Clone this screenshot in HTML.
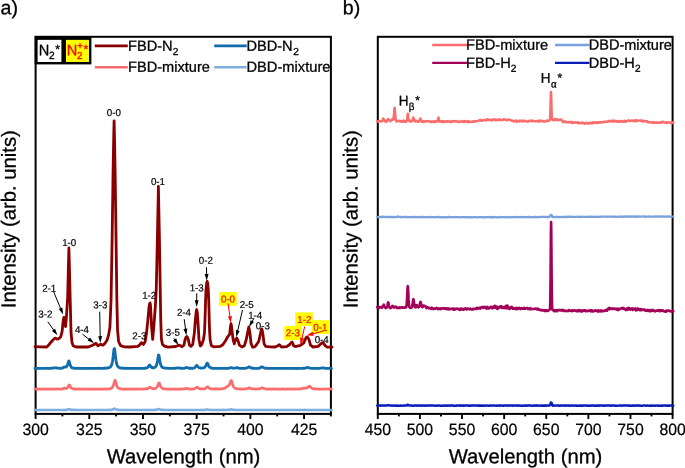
<!DOCTYPE html>
<html lang="en">
<head>
<meta charset="utf-8">
<title>Optical emission spectra</title>
<style>
html,body{margin:0;padding:0;background:#fff;}
body{width:685px;height:468px;overflow:hidden;}
svg{display:block;}
text{font-family:"Liberation Sans",sans-serif;stroke-linejoin:round;}
</style>
</head>
<body>
<svg width="685" height="468" viewBox="0 0 685 468" role="img" aria-label="Optical emission spectra, panels a and b">
<rect x="0" y="0" width="685" height="468" fill="#fff"/>
<g id="panel-a">
<rect x="35.60" y="36.80" width="295.30" height="377.10" fill="none" stroke="#000" stroke-width="2.00"/>
<line x1="35.60" y1="413.90" x2="35.60" y2="419.00" stroke="#000" stroke-width="1.9"/><line x1="89.29" y1="413.90" x2="89.29" y2="419.00" stroke="#000" stroke-width="1.9"/><line x1="142.98" y1="413.90" x2="142.98" y2="419.00" stroke="#000" stroke-width="1.9"/><line x1="196.67" y1="413.90" x2="196.67" y2="419.00" stroke="#000" stroke-width="1.9"/><line x1="250.36" y1="413.90" x2="250.36" y2="419.00" stroke="#000" stroke-width="1.9"/><line x1="304.05" y1="413.90" x2="304.05" y2="419.00" stroke="#000" stroke-width="1.9"/><line x1="62.45" y1="413.90" x2="62.45" y2="416.40" stroke="#000" stroke-width="1.9"/><line x1="116.14" y1="413.90" x2="116.14" y2="416.40" stroke="#000" stroke-width="1.9"/><line x1="169.83" y1="413.90" x2="169.83" y2="416.40" stroke="#000" stroke-width="1.9"/><line x1="223.52" y1="413.90" x2="223.52" y2="416.40" stroke="#000" stroke-width="1.9"/><line x1="277.21" y1="413.90" x2="277.21" y2="416.40" stroke="#000" stroke-width="1.9"/><line x1="330.90" y1="413.90" x2="330.90" y2="416.40" stroke="#000" stroke-width="1.9"/>
<text transform="translate(35.60 434.90) rotate(0.05) scale(1.000 1.040)" font-size="15.80" text-anchor="middle" fill="#000" stroke="#000" stroke-width="0.20" >300</text>
<text transform="translate(89.29 434.90) rotate(0.05) scale(1.000 1.040)" font-size="15.80" text-anchor="middle" fill="#000" stroke="#000" stroke-width="0.20" >325</text>
<text transform="translate(142.98 434.90) rotate(0.05) scale(1.000 1.040)" font-size="15.80" text-anchor="middle" fill="#000" stroke="#000" stroke-width="0.20" >350</text>
<text transform="translate(196.67 434.90) rotate(0.05) scale(1.000 1.040)" font-size="15.80" text-anchor="middle" fill="#000" stroke="#000" stroke-width="0.20" >375</text>
<text transform="translate(250.36 434.90) rotate(0.05) scale(1.000 1.040)" font-size="15.80" text-anchor="middle" fill="#000" stroke="#000" stroke-width="0.20" >400</text>
<text transform="translate(304.05 434.90) rotate(0.05) scale(1.000 1.040)" font-size="15.80" text-anchor="middle" fill="#000" stroke="#000" stroke-width="0.20" >425</text>
<text transform="translate(183.50 463.30) rotate(0.05)" font-size="20.30" text-anchor="middle" fill="#000" stroke="#000" stroke-width="0.30" >Wavelength (nm)</text>
<text transform="translate(15.6 219.2) rotate(-89.95)" font-size="20.30" text-anchor="middle" stroke="#000" stroke-width="0.3">Intensity (arb. units)</text>
<text transform="translate(0.50 14.20) rotate(0.05)" font-size="19.60" text-anchor="start" fill="#000" stroke="#000" stroke-width="0.30" >a)</text>
<path d="M35.00 409.97 L35.50 409.94 L36.00 410.02 L36.50 409.93 L37.00 410.01 L37.50 409.98 L38.00 409.93 L38.50 410.00 L39.00 409.93 L39.50 409.99 L40.00 409.93 L40.50 409.93 L41.00 409.99 L41.50 410.05 L42.00 409.94 L42.50 409.96 L43.00 410.02 L43.50 410.07 L44.00 410.01 L44.50 409.98 L45.00 410.08 L45.50 409.93 L46.00 410.06 L46.50 409.97 L47.00 409.94 L47.50 409.94 L48.00 409.97 L48.50 410.05 L49.00 409.95 L49.50 410.01 L50.00 410.02 L50.50 409.98 L51.00 410.01 L51.50 409.93 L52.00 409.93 L52.50 409.95 L53.00 410.03 L53.50 409.99 L54.00 409.97 L54.50 410.01 L55.00 409.99 L55.50 409.97 L56.00 410.05 L56.50 410.03 L57.00 409.96 L57.50 410.01 L58.00 410.00 L58.50 410.06 L59.00 410.03 L59.50 409.96 L60.00 410.07 L60.50 409.93 L61.00 409.98 L61.50 410.03 L62.00 409.93 L62.50 409.98 L63.00 409.91 L63.50 410.00 L64.00 410.01 L64.50 409.97 L65.00 410.01 L65.50 409.90 L66.00 409.92 L66.50 409.85 L67.00 409.77 L67.50 409.61 L68.00 409.48 L68.50 409.28 L69.00 409.10 L69.50 409.23 L70.00 409.35 L70.50 409.65 L71.00 409.78 L71.50 409.92 L72.00 409.94 L72.50 409.89 L73.00 409.93 L73.50 409.99 L74.00 409.89 L74.50 409.97 L75.00 409.93 L75.50 409.92 L76.00 409.92 L76.50 410.03 L77.00 409.93 L77.50 409.95 L78.00 409.98 L78.50 410.05 L79.00 409.93 L79.50 409.99 L80.00 410.00 L80.50 410.06 L81.00 410.05 L81.50 410.06 L82.00 409.96 L82.50 409.98 L83.00 409.98 L83.50 410.06 L84.00 410.07 L84.50 409.94 L85.00 409.95 L85.50 409.96 L86.00 409.96 L86.50 410.00 L87.00 410.01 L87.50 409.96 L88.00 409.92 L88.50 409.99 L89.00 409.98 L89.50 410.01 L90.00 410.07 L90.50 410.03 L91.00 410.00 L91.50 410.02 L92.00 410.03 L92.50 409.93 L93.00 410.06 L93.50 410.04 L94.00 410.06 L94.50 410.05 L95.00 409.98 L95.50 409.98 L96.00 409.94 L96.50 410.02 L97.00 409.93 L97.50 409.93 L98.00 409.95 L98.50 409.94 L99.00 409.97 L99.50 409.93 L100.00 409.92 L100.50 409.94 L101.00 409.93 L101.50 409.97 L102.00 409.92 L102.50 410.06 L103.00 410.01 L103.50 409.94 L104.00 409.95 L104.50 409.97 L105.00 409.97 L105.50 409.93 L106.00 410.04 L106.50 410.06 L107.00 409.98 L107.50 409.98 L108.00 409.91 L108.50 409.90 L109.00 409.93 L109.50 409.91 L110.00 409.98 L110.50 409.85 L111.00 409.79 L111.50 409.88 L112.00 409.73 L112.50 409.52 L113.00 409.37 L113.50 408.99 L114.00 408.75 L114.50 408.68 L115.00 408.81 L115.50 409.10 L116.00 409.33 L116.50 409.56 L117.00 409.67 L117.50 409.85 L118.00 409.87 L118.50 409.95 L119.00 409.90 L119.50 409.90 L120.00 410.01 L120.50 410.04 L121.00 410.03 L121.50 410.03 L122.00 410.03 L122.50 410.02 L123.00 409.94 L123.50 409.99 L124.00 409.97 L124.50 409.92 L125.00 409.92 L125.50 409.96 L126.00 409.96 L126.50 410.03 L127.00 410.07 L127.50 409.99 L128.00 410.07 L128.50 410.07 L129.00 410.07 L129.50 409.98 L130.00 409.95 L130.50 409.95 L131.00 409.95 L131.50 409.95 L132.00 410.02 L132.50 410.06 L133.00 410.05 L133.50 410.00 L134.00 410.02 L134.50 410.05 L135.00 409.93 L135.50 410.02 L136.00 410.06 L136.50 410.04 L137.00 410.04 L137.50 410.00 L138.00 409.95 L138.50 410.04 L139.00 409.97 L139.50 410.05 L140.00 410.07 L140.50 409.98 L141.00 409.98 L141.50 410.07 L142.00 410.03 L142.50 409.95 L143.00 409.94 L143.50 409.94 L144.00 410.06 L144.50 410.05 L145.00 409.94 L145.50 410.05 L146.00 410.07 L146.50 410.02 L147.00 409.97 L147.50 410.00 L148.00 409.94 L148.50 409.92 L149.00 410.07 L149.50 410.02 L150.00 410.00 L150.50 410.06 L151.00 409.98 L151.50 410.05 L152.00 410.03 L152.50 409.93 L153.00 409.93 L153.50 409.93 L154.00 409.91 L154.50 409.95 L155.00 409.88 L155.50 409.87 L156.00 409.77 L156.50 409.81 L157.00 409.59 L157.50 409.42 L158.00 409.20 L158.50 409.08 L159.00 409.03 L159.50 409.30 L160.00 409.47 L160.50 409.65 L161.00 409.77 L161.50 409.76 L162.00 409.88 L162.50 409.87 L163.00 409.86 L163.50 410.00 L164.00 409.91 L164.50 409.97 L165.00 410.02 L165.50 409.99 L166.00 409.96 L166.50 409.99 L167.00 410.00 L167.50 410.04 L168.00 409.93 L168.50 410.00 L169.00 409.95 L169.50 409.96 L170.00 410.04 L170.50 410.00 L171.00 410.01 L171.50 410.04 L172.00 410.06 L172.50 409.99 L173.00 410.02 L173.50 410.00 L174.00 410.00 L174.50 410.03 L175.00 409.99 L175.50 410.00 L176.00 410.00 L176.50 410.07 L177.00 410.03 L177.50 410.06 L178.00 410.07 L178.50 409.96 L179.00 410.01 L179.50 410.07 L180.00 410.05 L180.50 409.94 L181.00 409.94 L181.50 409.99 L182.00 409.93 L182.50 409.96 L183.00 409.93 L183.50 410.03 L184.00 410.04 L184.50 410.06 L185.00 409.94 L185.50 410.03 L186.00 410.02 L186.50 409.94 L187.00 410.06 L187.50 410.07 L188.00 409.95 L188.50 410.07 L189.00 409.98 L189.50 410.00 L190.00 410.08 L190.50 410.05 L191.00 409.94 L191.50 409.99 L192.00 410.00 L192.50 409.97 L193.00 409.95 L193.50 409.97 L194.00 410.03 L194.50 409.92 L195.00 410.01 L195.50 409.99 L196.00 409.92 L196.50 409.97 L197.00 410.02 L197.50 410.00 L198.00 409.93 L198.50 410.07 L199.00 410.04 L199.50 410.07 L200.00 409.93 L200.50 409.95 L201.00 409.91 L201.50 410.03 L202.00 409.94 L202.50 409.91 L203.00 409.95 L203.50 410.02 L204.00 409.98 L204.50 409.86 L205.00 409.79 L205.50 409.84 L206.00 409.68 L206.50 409.58 L207.00 409.43 L207.50 409.48 L208.00 409.70 L208.50 409.76 L209.00 409.78 L209.50 409.97 L210.00 409.95 L210.50 410.00 L211.00 409.90 L211.50 410.03 L212.00 409.91 L212.50 410.04 L213.00 409.98 L213.50 409.96 L214.00 410.00 L214.50 410.06 L215.00 409.96 L215.50 409.94 L216.00 410.00 L216.50 409.95 L217.00 409.93 L217.50 409.94 L218.00 409.92 L218.50 409.95 L219.00 409.97 L219.50 409.97 L220.00 410.04 L220.50 409.96 L221.00 410.00 L221.50 409.94 L222.00 409.97 L222.50 409.92 L223.00 409.95 L223.50 409.91 L224.00 410.03 L224.50 410.00 L225.00 409.94 L225.50 409.98 L226.00 410.05 L226.50 409.91 L227.00 410.01 L227.50 409.93 L228.00 409.92 L228.50 409.93 L229.00 409.80 L229.50 409.73 L230.00 409.63 L230.50 409.54 L231.00 409.37 L231.50 409.52 L232.00 409.63 L232.50 409.75 L233.00 409.80 L233.50 409.86 L234.00 409.85 L234.50 409.88 L235.00 409.89 L235.50 410.01 L236.00 409.94 L236.50 409.93 L237.00 409.92 L237.50 410.04 L238.00 410.05 L238.50 410.02 L239.00 409.96 L239.50 409.95 L240.00 409.96 L240.50 409.99 L241.00 409.94 L241.50 409.99 L242.00 409.96 L242.50 410.07 L243.00 410.07 L243.50 410.01 L244.00 409.96 L244.50 410.07 L245.00 409.97 L245.50 409.98 L246.00 409.92 L246.50 409.98 L247.00 410.00 L247.50 410.00 L248.00 409.95 L248.50 410.00 L249.00 409.92 L249.50 409.96 L250.00 409.93 L250.50 409.98 L251.00 409.93 L251.50 409.92 L252.00 409.97 L252.50 409.96 L253.00 410.01 L253.50 410.00 L254.00 410.04 L254.50 410.02 L255.00 410.03 L255.50 410.06 L256.00 409.98 L256.50 409.97 L257.00 410.08 L257.50 409.94 L258.00 410.04 L258.50 410.02 L259.00 409.93 L259.50 410.05 L260.00 410.06 L260.50 410.02 L261.00 410.04 L261.50 410.05 L262.00 409.94 L262.50 410.00 L263.00 410.00 L263.50 410.05 L264.00 410.05 L264.50 410.05 L265.00 410.01 L265.50 410.06 L266.00 410.03 L266.50 410.03 L267.00 409.96 L267.50 409.92 L268.00 409.94 L268.50 409.98 L269.00 409.94 L269.50 410.05 L270.00 410.01 L270.50 410.02 L271.00 410.02 L271.50 410.03 L272.00 410.00 L272.50 409.92 L273.00 410.05 L273.50 410.04 L274.00 410.00 L274.50 410.01 L275.00 410.03 L275.50 409.93 L276.00 410.04 L276.50 409.96 L277.00 409.93 L277.50 409.96 L278.00 410.04 L278.50 409.95 L279.00 410.04 L279.50 410.08 L280.00 410.00 L280.50 409.98 L281.00 410.00 L281.50 410.03 L282.00 410.04 L282.50 410.02 L283.00 410.02 L283.50 409.93 L284.00 409.94 L284.50 409.96 L285.00 410.04 L285.50 409.97 L286.00 410.01 L286.50 409.92 L287.00 409.93 L287.50 409.96 L288.00 410.03 L288.50 410.03 L289.00 410.03 L289.50 409.97 L290.00 410.00 L290.50 409.99 L291.00 409.99 L291.50 409.94 L292.00 410.06 L292.50 409.95 L293.00 410.08 L293.50 410.07 L294.00 409.92 L294.50 409.99 L295.00 410.05 L295.50 410.07 L296.00 409.99 L296.50 409.96 L297.00 409.95 L297.50 410.07 L298.00 409.95 L298.50 410.01 L299.00 409.94 L299.50 410.00 L300.00 410.07 L300.50 409.94 L301.00 410.05 L301.50 410.00 L302.00 410.06 L302.50 410.03 L303.00 409.96 L303.50 410.06 L304.00 410.00 L304.50 409.92 L305.00 409.92 L305.50 410.00 L306.00 409.99 L306.50 409.97 L307.00 409.94 L307.50 409.98 L308.00 409.97 L308.50 410.05 L309.00 409.92 L309.50 410.04 L310.00 410.05 L310.50 409.94 L311.00 410.07 L311.50 410.03 L312.00 410.06 L312.50 409.97 L313.00 409.98 L313.50 409.98 L314.00 410.08 L314.50 410.01 L315.00 409.98 L315.50 409.99 L316.00 409.96 L316.50 409.93 L317.00 409.94 L317.50 410.05 L318.00 409.97 L318.50 410.07 L319.00 409.96 L319.50 409.96 L320.00 410.00 L320.50 409.95 L321.00 409.98 L321.50 410.07 L322.00 410.06 L322.50 410.05 L323.00 410.02 L323.50 410.07 L324.00 410.07 L324.50 410.01 L325.00 410.04 L325.50 409.93 L326.00 410.04 L326.50 409.99 L327.00 410.04 L327.50 410.02 L328.00 409.97 L328.50 409.93 L329.00 410.07 L329.50 409.94 L330.00 410.00 L330.50 409.97 L331.00 409.97 L331.50 410.04" fill="none" stroke="#7daede" stroke-width="2.60" stroke-linejoin="round" stroke-linecap="round" />
<path d="M35.00 389.14 L35.50 389.17 L36.00 389.19 L36.50 389.23 L37.00 389.17 L37.50 389.23 L38.00 388.96 L38.50 389.09 L39.00 389.23 L39.50 389.14 L40.00 389.22 L40.50 388.98 L41.00 389.09 L41.50 389.02 L42.00 389.11 L42.50 389.12 L43.00 388.95 L43.50 389.01 L44.00 389.03 L44.50 389.22 L45.00 389.18 L45.50 389.00 L46.00 389.19 L46.50 388.99 L47.00 389.13 L47.50 388.99 L48.00 388.95 L48.50 389.21 L49.00 389.01 L49.50 389.01 L50.00 389.24 L50.50 389.21 L51.00 389.03 L51.50 389.23 L52.00 389.11 L52.50 389.15 L53.00 389.00 L53.50 389.22 L54.00 389.15 L54.50 389.23 L55.00 389.21 L55.50 389.03 L56.00 389.05 L56.50 388.98 L57.00 388.98 L57.50 388.95 L58.00 389.02 L58.50 389.10 L59.00 388.92 L59.50 389.11 L60.00 389.00 L60.50 388.98 L61.00 389.11 L61.50 388.98 L62.00 388.89 L62.50 388.86 L63.00 388.80 L63.50 388.41 L64.00 388.44 L64.50 388.00 L65.00 388.28 L65.50 388.46 L66.00 388.27 L66.50 388.43 L67.00 388.07 L67.50 387.69 L68.00 386.80 L68.50 385.82 L69.00 384.97 L69.50 385.10 L70.00 385.67 L70.50 386.87 L71.00 387.73 L71.50 388.26 L72.00 388.41 L72.50 388.62 L73.00 388.80 L73.50 388.96 L74.00 388.81 L74.50 389.04 L75.00 389.09 L75.50 389.13 L76.00 388.90 L76.50 389.18 L77.00 388.93 L77.50 389.01 L78.00 389.10 L78.50 389.20 L79.00 389.03 L79.50 389.21 L80.00 389.10 L80.50 389.03 L81.00 389.03 L81.50 388.99 L82.00 388.96 L82.50 388.98 L83.00 389.15 L83.50 389.24 L84.00 388.99 L84.50 388.96 L85.00 389.24 L85.50 389.10 L86.00 389.06 L86.50 389.01 L87.00 389.12 L87.50 389.19 L88.00 389.08 L88.50 389.07 L89.00 388.96 L89.50 389.22 L90.00 388.95 L90.50 389.09 L91.00 389.19 L91.50 388.98 L92.00 389.16 L92.50 389.23 L93.00 389.13 L93.50 389.18 L94.00 388.97 L94.50 389.07 L95.00 388.99 L95.50 389.19 L96.00 389.03 L96.50 389.08 L97.00 389.24 L97.50 389.19 L98.00 389.23 L98.50 389.07 L99.00 389.08 L99.50 389.15 L100.00 389.08 L100.50 389.02 L101.00 389.05 L101.50 388.97 L102.00 389.04 L102.50 389.22 L103.00 389.20 L103.50 389.10 L104.00 389.06 L104.50 389.00 L105.00 388.92 L105.50 388.97 L106.00 389.11 L106.50 389.12 L107.00 388.95 L107.50 389.06 L108.00 389.03 L108.50 388.97 L109.00 388.91 L109.50 388.87 L110.00 388.67 L110.50 388.65 L111.00 388.35 L111.50 388.15 L112.00 387.85 L112.50 387.23 L113.00 386.19 L113.50 385.03 L114.00 383.12 L114.50 381.25 L115.00 380.25 L115.50 381.24 L116.00 383.00 L116.50 384.94 L117.00 386.25 L117.50 387.27 L118.00 387.81 L118.50 388.24 L119.00 388.37 L119.50 388.63 L120.00 388.78 L120.50 388.89 L121.00 388.81 L121.50 389.01 L122.00 389.05 L122.50 389.03 L123.00 389.13 L123.50 389.14 L124.00 389.03 L124.50 389.04 L125.00 388.94 L125.50 389.15 L126.00 389.19 L126.50 389.05 L127.00 389.12 L127.50 389.13 L128.00 389.14 L128.50 388.98 L129.00 389.16 L129.50 389.10 L130.00 389.13 L130.50 389.06 L131.00 389.12 L131.50 389.17 L132.00 389.13 L132.50 389.15 L133.00 388.94 L133.50 388.98 L134.00 389.07 L134.50 389.13 L135.00 389.00 L135.50 389.14 L136.00 389.13 L136.50 388.95 L137.00 389.08 L137.50 389.00 L138.00 388.95 L138.50 388.97 L139.00 389.03 L139.50 388.99 L140.00 388.99 L140.50 388.94 L141.00 389.07 L141.50 389.04 L142.00 389.10 L142.50 389.09 L143.00 388.98 L143.50 389.17 L144.00 388.89 L144.50 389.00 L145.00 388.95 L145.50 388.97 L146.00 388.84 L146.50 389.01 L147.00 388.80 L147.50 388.58 L148.00 388.56 L148.50 388.10 L149.00 387.79 L149.50 387.24 L150.00 387.07 L150.50 387.41 L151.00 387.84 L151.50 388.14 L152.00 388.54 L152.50 388.65 L153.00 388.65 L153.50 388.61 L154.00 388.73 L154.50 388.66 L155.00 388.68 L155.50 388.51 L156.00 388.14 L156.50 387.65 L157.00 387.16 L157.50 385.93 L158.00 384.67 L158.50 383.50 L159.00 382.92 L159.50 383.37 L160.00 384.83 L160.50 386.21 L161.00 387.03 L161.50 387.70 L162.00 388.06 L162.50 388.36 L163.00 388.75 L163.50 388.69 L164.00 388.96 L164.50 389.00 L165.00 388.95 L165.50 388.89 L166.00 389.13 L166.50 389.00 L167.00 388.99 L167.50 388.98 L168.00 389.19 L168.50 389.05 L169.00 388.99 L169.50 389.05 L170.00 388.95 L170.50 389.11 L171.00 389.06 L171.50 389.01 L172.00 389.16 L172.50 389.18 L173.00 388.93 L173.50 389.09 L174.00 389.02 L174.50 389.21 L175.00 389.17 L175.50 389.01 L176.00 389.02 L176.50 388.98 L177.00 389.23 L177.50 389.02 L178.00 389.12 L178.50 389.08 L179.00 389.13 L179.50 389.11 L180.00 389.15 L180.50 388.96 L181.00 389.15 L181.50 389.01 L182.00 389.07 L182.50 389.00 L183.00 388.97 L183.50 389.02 L184.00 388.96 L184.50 388.87 L185.00 388.89 L185.50 388.71 L186.00 388.41 L186.50 388.41 L187.00 388.53 L187.50 388.81 L188.00 388.92 L188.50 388.91 L189.00 388.81 L189.50 389.07 L190.00 388.98 L190.50 389.04 L191.00 389.08 L191.50 389.05 L192.00 388.99 L192.50 389.10 L193.00 388.91 L193.50 388.86 L194.00 388.92 L194.50 388.59 L195.00 388.42 L195.50 388.27 L196.00 387.62 L196.50 387.39 L197.00 387.14 L197.50 387.27 L198.00 387.68 L198.50 388.25 L199.00 388.59 L199.50 388.56 L200.00 388.78 L200.50 388.87 L201.00 388.90 L201.50 388.87 L202.00 388.83 L202.50 388.95 L203.00 389.00 L203.50 388.74 L204.00 388.72 L204.50 388.79 L205.00 388.63 L205.50 388.34 L206.00 387.77 L206.50 387.48 L207.00 387.05 L207.50 386.83 L208.00 386.97 L208.50 387.28 L209.00 388.02 L209.50 388.21 L210.00 388.59 L210.50 388.85 L211.00 388.88 L211.50 388.78 L212.00 388.87 L212.50 389.09 L213.00 388.88 L213.50 389.04 L214.00 388.99 L214.50 388.92 L215.00 389.06 L215.50 388.89 L216.00 388.91 L216.50 388.99 L217.00 388.90 L217.50 388.89 L218.00 389.04 L218.50 389.08 L219.00 389.11 L219.50 388.87 L220.00 388.95 L220.50 388.89 L221.00 388.95 L221.50 388.88 L222.00 388.97 L222.50 388.74 L223.00 388.57 L223.50 388.66 L224.00 388.36 L224.50 388.33 L225.00 388.06 L225.50 387.88 L226.00 387.41 L226.50 387.02 L227.00 386.54 L227.50 386.32 L228.00 386.01 L228.50 385.92 L229.00 385.41 L229.50 384.47 L230.00 383.17 L230.50 381.57 L231.00 380.52 L231.50 380.62 L232.00 382.37 L232.50 384.24 L233.00 385.61 L233.50 386.85 L234.00 387.38 L234.50 387.85 L235.00 388.30 L235.50 388.40 L236.00 388.73 L236.50 388.72 L237.00 388.75 L237.50 388.94 L238.00 388.76 L238.50 389.00 L239.00 388.82 L239.50 388.87 L240.00 389.13 L240.50 389.06 L241.00 388.93 L241.50 388.90 L242.00 389.16 L242.50 389.07 L243.00 389.12 L243.50 388.91 L244.00 389.05 L244.50 388.96 L245.00 388.91 L245.50 388.91 L246.00 388.95 L246.50 388.81 L247.00 388.71 L247.50 388.47 L248.00 388.43 L248.50 388.07 L249.00 387.90 L249.50 387.81 L250.00 388.20 L250.50 388.40 L251.00 388.65 L251.50 388.80 L252.00 388.95 L252.50 388.91 L253.00 388.86 L253.50 388.87 L254.00 388.93 L254.50 388.89 L255.00 389.16 L255.50 389.04 L256.00 389.12 L256.50 388.89 L257.00 389.02 L257.50 389.13 L258.00 389.03 L258.50 388.94 L259.00 388.90 L259.50 388.71 L260.00 388.60 L260.50 388.40 L261.00 388.19 L261.50 387.90 L262.00 387.91 L262.50 387.83 L263.00 388.15 L263.50 388.44 L264.00 388.60 L264.50 388.77 L265.00 388.84 L265.50 388.97 L266.00 388.87 L266.50 389.16 L267.00 389.01 L267.50 389.19 L268.00 389.12 L268.50 389.12 L269.00 389.07 L269.50 389.21 L270.00 388.97 L270.50 389.14 L271.00 389.02 L271.50 389.14 L272.00 389.16 L272.50 388.99 L273.00 389.00 L273.50 388.95 L274.00 389.01 L274.50 388.97 L275.00 389.06 L275.50 389.24 L276.00 389.05 L276.50 389.04 L277.00 389.09 L277.50 389.03 L278.00 389.16 L278.50 389.16 L279.00 388.99 L279.50 389.02 L280.00 389.15 L280.50 389.23 L281.00 389.14 L281.50 389.07 L282.00 389.24 L282.50 388.95 L283.00 388.96 L283.50 389.18 L284.00 389.07 L284.50 388.96 L285.00 389.11 L285.50 389.24 L286.00 389.10 L286.50 389.05 L287.00 388.97 L287.50 388.96 L288.00 389.21 L288.50 389.09 L289.00 389.22 L289.50 388.96 L290.00 389.01 L290.50 388.96 L291.00 389.06 L291.50 388.96 L292.00 389.01 L292.50 389.06 L293.00 389.03 L293.50 388.95 L294.00 388.94 L294.50 389.22 L295.00 388.98 L295.50 389.07 L296.00 389.04 L296.50 389.07 L297.00 388.93 L297.50 388.99 L298.00 388.92 L298.50 389.04 L299.00 389.13 L299.50 389.01 L300.00 389.06 L300.50 388.82 L301.00 388.70 L301.50 388.76 L302.00 388.62 L302.50 388.47 L303.00 388.20 L303.50 388.07 L304.00 388.00 L304.50 388.08 L305.00 388.00 L305.50 388.13 L306.00 388.27 L306.50 388.00 L307.00 387.75 L307.50 387.46 L308.00 386.90 L308.50 386.59 L309.00 386.27 L309.50 386.17 L310.00 386.54 L310.50 387.09 L311.00 387.65 L311.50 387.99 L312.00 388.38 L312.50 388.61 L313.00 388.65 L313.50 388.68 L314.00 388.94 L314.50 388.79 L315.00 388.87 L315.50 388.92 L316.00 388.97 L316.50 388.90 L317.00 389.01 L317.50 388.99 L318.00 389.13 L318.50 389.08 L319.00 389.19 L319.50 389.12 L320.00 389.15 L320.50 389.10 L321.00 389.06 L321.50 389.18 L322.00 389.13 L322.50 389.22 L323.00 389.16 L323.50 389.15 L324.00 389.02 L324.50 389.18 L325.00 389.06 L325.50 388.98 L326.00 388.96 L326.50 388.99 L327.00 389.02 L327.50 389.15 L328.00 389.03 L328.50 388.96 L329.00 389.17 L329.50 389.11 L330.00 388.95 L330.50 388.96 L331.00 388.99 L331.50 389.05" fill="none" stroke="#fc6c6c" stroke-width="2.70" stroke-linejoin="round" stroke-linecap="round" />
<path d="M35.00 368.33 L35.50 368.41 L36.00 368.37 L36.50 368.42 L37.00 368.43 L37.50 368.29 L38.00 368.28 L38.50 368.48 L39.00 368.34 L39.50 368.33 L40.00 368.51 L40.50 368.39 L41.00 368.47 L41.50 368.39 L42.00 368.42 L42.50 368.31 L43.00 368.42 L43.50 368.48 L44.00 368.39 L44.50 368.44 L45.00 368.42 L45.50 368.28 L46.00 368.44 L46.50 368.40 L47.00 368.32 L47.50 368.25 L48.00 368.45 L48.50 368.34 L49.00 368.39 L49.50 368.42 L50.00 368.36 L50.50 368.39 L51.00 368.24 L51.50 368.30 L52.00 368.17 L52.50 368.22 L53.00 368.13 L53.50 367.86 L54.00 367.79 L54.50 367.74 L55.00 367.89 L55.50 367.79 L56.00 367.90 L56.50 367.90 L57.00 368.03 L57.50 368.07 L58.00 368.11 L58.50 368.21 L59.00 368.23 L59.50 368.32 L60.00 368.27 L60.50 368.32 L61.00 368.28 L61.50 368.26 L62.00 368.10 L62.50 367.83 L63.00 367.76 L63.50 367.41 L64.00 367.01 L64.50 366.81 L65.00 367.03 L65.50 367.08 L66.00 367.18 L66.50 366.78 L67.00 365.99 L67.50 364.68 L68.00 363.04 L68.50 361.34 L69.00 360.93 L69.50 362.67 L70.00 364.51 L70.50 365.88 L71.00 366.81 L71.50 367.45 L72.00 367.80 L72.50 367.81 L73.00 368.08 L73.50 368.03 L74.00 368.25 L74.50 368.20 L75.00 368.37 L75.50 368.41 L76.00 368.32 L76.50 368.45 L77.00 368.30 L77.50 368.25 L78.00 368.38 L78.50 368.25 L79.00 368.29 L79.50 368.35 L80.00 368.40 L80.50 368.29 L81.00 368.27 L81.50 368.47 L82.00 368.34 L82.50 368.49 L83.00 368.48 L83.50 368.36 L84.00 368.38 L84.50 368.39 L85.00 368.42 L85.50 368.41 L86.00 368.40 L86.50 368.42 L87.00 368.49 L87.50 368.39 L88.00 368.37 L88.50 368.44 L89.00 368.33 L89.50 368.34 L90.00 368.50 L90.50 368.39 L91.00 368.40 L91.50 368.27 L92.00 368.37 L92.50 368.40 L93.00 368.27 L93.50 368.41 L94.00 368.42 L94.50 368.28 L95.00 368.41 L95.50 368.37 L96.00 368.42 L96.50 368.34 L97.00 368.43 L97.50 368.43 L98.00 368.26 L98.50 368.26 L99.00 368.41 L99.50 368.47 L100.00 368.30 L100.50 368.34 L101.00 368.37 L101.50 368.30 L102.00 368.30 L102.50 368.28 L103.00 368.29 L103.50 368.33 L104.00 368.25 L104.50 368.25 L105.00 368.32 L105.50 368.12 L106.00 368.22 L106.50 368.22 L107.00 368.07 L107.50 367.99 L108.00 368.05 L108.50 367.81 L109.00 367.65 L109.50 367.50 L110.00 367.28 L110.50 366.71 L111.00 366.13 L111.50 365.15 L112.00 363.73 L112.50 361.21 L113.00 357.67 L113.50 352.83 L114.00 348.88 L114.50 348.50 L115.00 352.06 L115.50 356.69 L116.00 360.53 L116.50 363.15 L117.00 364.94 L117.50 365.93 L118.00 366.77 L118.50 367.24 L119.00 367.39 L119.50 367.63 L120.00 367.92 L120.50 367.99 L121.00 368.12 L121.50 368.07 L122.00 368.07 L122.50 368.15 L123.00 368.30 L123.50 368.20 L124.00 368.24 L124.50 368.27 L125.00 368.28 L125.50 368.29 L126.00 368.43 L126.50 368.25 L127.00 368.22 L127.50 368.45 L128.00 368.44 L128.50 368.47 L129.00 368.34 L129.50 368.47 L130.00 368.47 L130.50 368.30 L131.00 368.43 L131.50 368.45 L132.00 368.41 L132.50 368.38 L133.00 368.32 L133.50 368.34 L134.00 368.31 L134.50 368.27 L135.00 368.40 L135.50 368.33 L136.00 368.45 L136.50 368.27 L137.00 368.47 L137.50 368.42 L138.00 368.48 L138.50 368.47 L139.00 368.47 L139.50 368.39 L140.00 368.25 L140.50 368.42 L141.00 368.28 L141.50 368.31 L142.00 368.39 L142.50 368.35 L143.00 368.31 L143.50 368.43 L144.00 368.33 L144.50 368.24 L145.00 368.19 L145.50 368.29 L146.00 368.13 L146.50 368.10 L147.00 367.83 L147.50 367.52 L148.00 367.15 L148.50 366.51 L149.00 365.46 L149.50 365.00 L150.00 365.30 L150.50 366.10 L151.00 366.89 L151.50 367.20 L152.00 367.64 L152.50 367.85 L153.00 367.71 L153.50 367.75 L154.00 367.67 L154.50 367.58 L155.00 367.30 L155.50 366.92 L156.00 366.34 L156.50 365.11 L157.00 363.41 L157.50 360.81 L158.00 357.45 L158.50 354.85 L159.00 355.41 L159.50 358.32 L160.00 361.42 L160.50 363.95 L161.00 365.47 L161.50 366.43 L162.00 367.04 L162.50 367.49 L163.00 367.73 L163.50 367.85 L164.00 367.93 L164.50 368.05 L165.00 368.06 L165.50 368.21 L166.00 368.28 L166.50 368.23 L167.00 368.18 L167.50 368.22 L168.00 368.28 L168.50 368.35 L169.00 368.40 L169.50 368.31 L170.00 368.42 L170.50 368.38 L171.00 368.33 L171.50 368.32 L172.00 368.35 L172.50 368.40 L173.00 368.33 L173.50 368.39 L174.00 368.32 L174.50 368.26 L175.00 368.30 L175.50 368.31 L176.00 368.10 L176.50 368.09 L177.00 367.96 L177.50 367.93 L178.00 367.88 L178.50 367.81 L179.00 368.07 L179.50 368.17 L180.00 368.14 L180.50 368.24 L181.00 368.19 L181.50 368.37 L182.00 368.34 L182.50 368.39 L183.00 368.36 L183.50 368.30 L184.00 368.27 L184.50 368.15 L185.00 367.92 L185.50 367.86 L186.00 367.54 L186.50 367.49 L187.00 367.72 L187.50 367.73 L188.00 367.91 L188.50 368.03 L189.00 368.29 L189.50 368.17 L190.00 368.16 L190.50 368.36 L191.00 368.19 L191.50 368.35 L192.00 368.29 L192.50 368.30 L193.00 368.27 L193.50 368.10 L194.00 368.03 L194.50 367.63 L195.00 367.47 L195.50 366.87 L196.00 366.20 L196.50 365.41 L197.00 365.49 L197.50 366.09 L198.00 366.62 L198.50 367.25 L199.00 367.67 L199.50 367.96 L200.00 367.95 L200.50 368.01 L201.00 368.06 L201.50 368.16 L202.00 368.18 L202.50 368.05 L203.00 367.98 L203.50 367.88 L204.00 367.69 L204.50 367.43 L205.00 366.90 L205.50 366.30 L206.00 365.38 L206.50 363.99 L207.00 363.14 L207.50 363.12 L208.00 364.31 L208.50 365.57 L209.00 366.52 L209.50 367.13 L210.00 367.53 L210.50 367.83 L211.00 368.06 L211.50 368.00 L212.00 368.06 L212.50 368.27 L213.00 368.35 L213.50 368.29 L214.00 368.29 L214.50 368.37 L215.00 368.26 L215.50 368.29 L216.00 368.28 L216.50 368.38 L217.00 368.32 L217.50 368.30 L218.00 368.42 L218.50 368.48 L219.00 368.33 L219.50 368.43 L220.00 368.36 L220.50 368.46 L221.00 368.40 L221.50 368.33 L222.00 368.31 L222.50 368.27 L223.00 368.38 L223.50 368.35 L224.00 368.30 L224.50 368.34 L225.00 368.33 L225.50 368.43 L226.00 368.27 L226.50 368.47 L227.00 368.33 L227.50 368.34 L228.00 368.27 L228.50 368.31 L229.00 368.23 L229.50 368.04 L230.00 367.85 L230.50 367.72 L231.00 367.66 L231.50 367.63 L232.00 367.89 L232.50 368.11 L233.00 368.10 L233.50 368.10 L234.00 368.13 L234.50 368.23 L235.00 368.17 L235.50 368.15 L236.00 367.98 L236.50 367.68 L237.00 367.60 L237.50 367.69 L238.00 367.84 L238.50 368.11 L239.00 368.26 L239.50 368.34 L240.00 368.23 L240.50 368.40 L241.00 368.28 L241.50 368.32 L242.00 368.40 L242.50 368.25 L243.00 368.25 L243.50 368.42 L244.00 368.28 L244.50 368.28 L245.00 368.31 L245.50 368.30 L246.00 368.08 L246.50 368.08 L247.00 367.97 L247.50 367.77 L248.00 367.40 L248.50 367.12 L249.00 366.93 L249.50 366.83 L250.00 367.18 L250.50 367.45 L251.00 367.77 L251.50 368.05 L252.00 368.04 L252.50 368.30 L253.00 368.36 L253.50 368.19 L254.00 368.42 L254.50 368.29 L255.00 368.40 L255.50 368.40 L256.00 368.28 L256.50 368.37 L257.00 368.36 L257.50 368.38 L258.00 368.22 L258.50 368.30 L259.00 368.28 L259.50 368.11 L260.00 367.92 L260.50 367.57 L261.00 367.32 L261.50 366.93 L262.00 366.85 L262.50 367.01 L263.00 367.34 L263.50 367.59 L264.00 367.95 L264.50 368.11 L265.00 368.10 L265.50 368.34 L266.00 368.32 L266.50 368.23 L267.00 368.44 L267.50 368.26 L268.00 368.32 L268.50 368.42 L269.00 368.40 L269.50 368.39 L270.00 368.42 L270.50 368.37 L271.00 368.34 L271.50 368.31 L272.00 368.29 L272.50 368.44 L273.00 368.45 L273.50 368.40 L274.00 368.45 L274.50 368.36 L275.00 368.34 L275.50 368.37 L276.00 368.48 L276.50 368.29 L277.00 368.40 L277.50 368.34 L278.00 368.46 L278.50 368.36 L279.00 368.36 L279.50 368.37 L280.00 368.41 L280.50 368.46 L281.00 368.36 L281.50 368.48 L282.00 368.30 L282.50 368.34 L283.00 368.30 L283.50 368.31 L284.00 368.46 L284.50 368.45 L285.00 368.32 L285.50 368.32 L286.00 368.38 L286.50 368.46 L287.00 368.47 L287.50 368.46 L288.00 368.42 L288.50 368.31 L289.00 368.37 L289.50 368.32 L290.00 368.40 L290.50 368.41 L291.00 368.33 L291.50 368.34 L292.00 368.46 L292.50 368.28 L293.00 368.47 L293.50 368.49 L294.00 368.50 L294.50 368.37 L295.00 368.41 L295.50 368.41 L296.00 368.43 L296.50 368.51 L297.00 368.44 L297.50 368.34 L298.00 368.48 L298.50 368.39 L299.00 368.41 L299.50 368.44 L300.00 368.26 L300.50 368.44 L301.00 368.41 L301.50 368.37 L302.00 368.36 L302.50 368.34 L303.00 368.26 L303.50 368.32 L304.00 368.17 L304.50 368.23 L305.00 368.19 L305.50 368.03 L306.00 367.90 L306.50 367.79 L307.00 367.58 L307.50 367.31 L308.00 367.56 L308.50 367.71 L309.00 367.78 L309.50 368.01 L310.00 368.09 L310.50 368.13 L311.00 368.28 L311.50 368.41 L312.00 368.29 L312.50 368.43 L313.00 368.40 L313.50 368.28 L314.00 368.46 L314.50 368.40 L315.00 368.48 L315.50 368.43 L316.00 368.43 L316.50 368.34 L317.00 368.45 L317.50 368.48 L318.00 368.45 L318.50 368.35 L319.00 368.41 L319.50 368.33 L320.00 368.22 L320.50 368.16 L321.00 368.12 L321.50 368.07 L322.00 367.96 L322.50 367.94 L323.00 367.95 L323.50 367.95 L324.00 368.02 L324.50 368.18 L325.00 368.17 L325.50 368.27 L326.00 368.37 L326.50 368.31 L327.00 368.28 L327.50 368.46 L328.00 368.43 L328.50 368.35 L329.00 368.35 L329.50 368.39 L330.00 368.41 L330.50 368.32 L331.00 368.27 L331.50 368.32" fill="none" stroke="#116dac" stroke-width="2.80" stroke-linejoin="round" stroke-linecap="round" />
<path d="M35.00 346.70 L40.00 346.90 L46.70 347.00 L48.50 345.30 L50.00 343.30 L52.50 340.50 L54.30 338.60 L55.60 338.20 L57.50 339.20 L59.30 338.20 L60.80 336.70 L62.20 331.00 L63.00 322.00 L63.90 317.30 L64.85 321.00 L65.55 326.50 L66.35 318.00 L67.65 298.00 L68.45 265.00 L68.90 248.00 L69.35 265.00 L70.15 298.00 L71.05 333.00 L72.00 342.50 L73.20 345.80 L76.00 347.00 L88.30 347.00 L92.50 345.30 L94.50 344.30 L95.80 343.30 L97.00 344.60 L98.00 345.80 L99.60 344.80 L100.80 344.20 L102.20 345.00 L103.30 345.00 L105.00 343.20 L107.00 340.30 L108.60 335.00 L109.95 327.00 L111.05 300.00 L112.15 238.00 L113.05 173.00 L113.75 135.00 L114.10 120.80 L114.45 135.00 L115.15 173.00 L116.05 238.00 L116.85 300.00 L117.55 330.00 L118.60 341.50 L120.60 345.60 L124.00 346.80 L130.00 347.00 L137.80 346.30 L139.70 344.80 L141.40 342.70 L142.60 343.60 L143.50 344.40 L145.10 341.70 L146.55 332.80 L147.85 320.20 L148.95 307.60 L149.65 303.60 L150.10 302.90 L150.45 305.00 L150.95 313.90 L151.55 326.50 L152.70 339.30 L153.25 333.00 L153.85 326.50 L155.25 307.60 L156.25 290.00 L157.35 240.00 L158.15 200.00 L158.40 186.50 L158.65 200.00 L159.45 240.00 L160.25 290.00 L160.75 320.20 L161.40 339.10 L162.40 344.20 L164.30 346.10 L168.10 347.10 L175.70 346.50 L177.60 345.70 L179.50 345.10 L182.00 346.70 L183.90 345.10 L185.10 339.60 L186.00 337.20 L186.80 336.50 L187.60 337.50 L188.30 339.60 L189.50 345.30 L190.80 346.40 L192.70 344.50 L194.35 333.10 L195.35 320.20 L196.15 312.20 L196.70 309.50 L197.25 312.20 L197.85 320.20 L199.00 339.40 L200.30 346.00 L201.50 345.10 L203.30 340.30 L204.40 333.30 L204.90 323.00 L205.30 310.00 L205.60 300.00 L206.00 290.00 L206.60 283.30 L207.15 281.40 L207.70 283.30 L208.30 290.00 L208.70 300.00 L209.00 310.00 L209.30 323.00 L209.70 333.30 L210.20 340.30 L211.30 345.50 L213.50 346.80 L220.40 346.40 L223.00 344.50 L225.50 340.70 L228.00 336.30 L229.65 334.40 L230.45 327.00 L231.00 323.70 L231.45 325.60 L231.85 329.40 L233.10 339.40 L234.30 343.80 L235.60 339.40 L236.80 338.10 L238.10 340.90 L239.40 345.10 L241.90 347.00 L244.40 345.70 L246.30 339.40 L247.75 331.90 L248.80 327.00 L249.95 333.10 L251.00 343.20 L252.60 347.20 L254.50 346.90 L256.30 345.10 L258.80 341.30 L260.45 333.70 L261.25 330.00 L261.70 328.90 L262.15 330.00 L262.85 333.70 L264.10 343.80 L265.80 346.40 L270.00 346.90 L275.20 347.00 L277.50 345.90 L279.30 344.80 L281.50 347.00 L286.60 346.60 L289.70 344.50 L291.20 342.60 L292.00 342.00 L292.80 343.20 L293.50 345.70 L295.40 346.60 L300.40 345.40 L303.60 343.20 L305.50 338.70 L306.40 337.40 L307.10 337.10 L308.00 337.90 L309.00 339.70 L310.50 345.10 L313.10 347.00 L318.10 346.40 L320.90 343.80 L322.00 342.90 L322.90 342.60 L323.80 343.50 L324.70 345.10 L326.90 347.00 L332.00 347.20" fill="none" stroke="#8a0000" stroke-width="2.80" stroke-linejoin="round" stroke-linecap="round" />
<rect x="34.70" y="36.00" width="56.70" height="28.40" fill="#000"/>
<rect x="37.60" y="39.85" width="23.80" height="22.15" fill="#fff"/>
<rect x="65.95" y="39.85" width="23.05" height="22.15" fill="#ff0"/>
<text transform="translate(38.80 55.30) rotate(0.05) scale(1 1.040)" fill="#000" stroke="#000" stroke-width="0.30"><tspan x="0.00" y="0.00" font-size="14.60">N</tspan><tspan x="10.30" y="3.65" font-size="10.20">2</tspan><tspan x="16.40" y="-1.73" font-size="12.20">*</tspan></text>
<text transform="translate(66.80 55.30) rotate(0.05) scale(1 1.040)" fill="#f00" stroke="#f00" stroke-width="0.30"><tspan x="0.00" y="0.00" font-size="14.60">N</tspan><tspan x="10.10" y="3.51" font-size="9.80">2</tspan><tspan x="10.50" y="-6.15" font-size="9.60" stroke-width="0.35">+</tspan><tspan x="16.70" y="-1.73" font-size="12.20">*</tspan></text>
<line x1="94.80" y1="45.90" x2="127.80" y2="45.90" stroke="#8a0000" stroke-width="2.60"/>
<line x1="94.80" y1="67.30" x2="127.80" y2="67.30" stroke="#fc6c6c" stroke-width="2.60"/>
<line x1="214.20" y1="45.90" x2="246.80" y2="45.90" stroke="#116dac" stroke-width="2.60"/>
<line x1="214.20" y1="67.30" x2="246.60" y2="67.30" stroke="#7daede" stroke-width="2.60"/>
<text transform="translate(128.00 50.80) rotate(0.05) scale(1 1.000)" fill="#000" stroke="#000" stroke-width="0.30"><tspan x="0.00" y="0.00" font-size="14.60">FBD-N</tspan><tspan x="44.70" y="4.20" font-size="10.10">2</tspan></text>
<text transform="translate(128.00 71.70) rotate(0.05)" font-size="14.60" text-anchor="start" fill="#000" stroke="#000" stroke-width="0.30" >FBD-mixture</text>
<text transform="translate(246.40 50.80) rotate(0.05) scale(1 1.000)" fill="#000" stroke="#000" stroke-width="0.30"><tspan x="0.00" y="0.00" font-size="14.60">DBD-N</tspan><tspan x="46.80" y="4.20" font-size="10.10">2</tspan></text>
<text transform="translate(246.40 71.80) rotate(0.05)" font-size="14.70" text-anchor="start" fill="#000" stroke="#000" stroke-width="0.30" >DBD-mixture</text>
<text transform="translate(113.90 116.00) rotate(0.05) scale(1.000 1.020)" font-size="9.80" text-anchor="middle" fill="#000" stroke="#000" stroke-width="0.20" >0-0</text>
<text transform="translate(158.00 184.90) rotate(0.05) scale(1.000 1.020)" font-size="9.80" text-anchor="middle" fill="#000" stroke="#000" stroke-width="0.20" >0-1</text>
<text transform="translate(69.20 245.90) rotate(0.05) scale(1.000 1.020)" font-size="9.80" text-anchor="middle" fill="#000" stroke="#000" stroke-width="0.20" >1-0</text>
<text transform="translate(49.20 291.70) rotate(0.05) scale(1.000 1.020)" font-size="9.80" text-anchor="middle" fill="#000" stroke="#000" stroke-width="0.20" >2-1</text>
<text transform="translate(45.40 317.50) rotate(0.05) scale(1.000 1.020)" font-size="9.80" text-anchor="middle" fill="#000" stroke="#000" stroke-width="0.20" >3-2</text>
<text transform="translate(82.00 333.00) rotate(0.05) scale(1.000 1.020)" font-size="9.80" text-anchor="middle" fill="#000" stroke="#000" stroke-width="0.20" >4-4</text>
<text transform="translate(100.40 308.30) rotate(0.05) scale(1.000 1.020)" font-size="9.80" text-anchor="middle" fill="#000" stroke="#000" stroke-width="0.20" >3-3</text>
<text transform="translate(139.30 339.20) rotate(0.05) scale(1.000 1.020)" font-size="9.80" text-anchor="middle" fill="#000" stroke="#000" stroke-width="0.20" >2-3</text>
<text transform="translate(149.20 298.70) rotate(0.05) scale(1.000 1.020)" font-size="9.80" text-anchor="middle" fill="#000" stroke="#000" stroke-width="0.20" >1-2</text>
<text transform="translate(172.90 335.80) rotate(0.05) scale(1.000 1.020)" font-size="9.80" text-anchor="middle" fill="#000" stroke="#000" stroke-width="0.20" >3-5</text>
<text transform="translate(184.00 315.80) rotate(0.05) scale(1.000 1.020)" font-size="9.80" text-anchor="middle" fill="#000" stroke="#000" stroke-width="0.20" >2-4</text>
<text transform="translate(196.70 291.30) rotate(0.05) scale(1.000 1.020)" font-size="9.80" text-anchor="middle" fill="#000" stroke="#000" stroke-width="0.20" >1-3</text>
<text transform="translate(205.80 263.70) rotate(0.05) scale(1.000 1.020)" font-size="9.80" text-anchor="middle" fill="#000" stroke="#000" stroke-width="0.20" >0-2</text>
<text transform="translate(246.70 308.00) rotate(0.05) scale(1.000 1.020)" font-size="9.80" text-anchor="middle" fill="#000" stroke="#000" stroke-width="0.20" >2-5</text>
<text transform="translate(255.20 318.80) rotate(0.05) scale(1.000 1.020)" font-size="9.80" text-anchor="middle" fill="#000" stroke="#000" stroke-width="0.20" >1-4</text>
<text transform="translate(262.80 329.20) rotate(0.05) scale(1.000 1.020)" font-size="9.80" text-anchor="middle" fill="#000" stroke="#000" stroke-width="0.20" >0-3</text>
<text transform="translate(321.70 343.00) rotate(0.05) scale(1.000 1.020)" font-size="9.80" text-anchor="middle" fill="#000" stroke="#000" stroke-width="0.20" >0-4</text>
<rect x="219.20" y="292.00" width="17.50" height="13.80" fill="#ff0"/><text transform="translate(228.00 302.50) rotate(0.05) scale(1.000 1.020)" font-size="9.80" text-anchor="middle" fill="#f00" stroke="#f00" stroke-width="0.20" >0-0</text>
<rect x="284.30" y="325.90" width="17.40" height="14.20" fill="#ff0"/><text transform="translate(292.80 336.20) rotate(0.05) scale(1.000 1.020)" font-size="9.80" text-anchor="middle" fill="#f00" stroke="#f00" stroke-width="0.20" >2-3</text>
<rect x="295.20" y="312.40" width="17.60" height="13.50" fill="#ff0"/><text transform="translate(304.30 323.00) rotate(0.05) scale(1.000 1.020)" font-size="9.80" text-anchor="middle" fill="#f00" stroke="#f00" stroke-width="0.20" >1-2</text>
<rect x="311.80" y="320.20" width="17.70" height="13.80" fill="#ff0"/><text transform="translate(320.30 330.80) rotate(0.05) scale(1.000 1.020)" font-size="9.80" text-anchor="middle" fill="#f00" stroke="#f00" stroke-width="0.20" >0-1</text>
<line x1="53.50" y1="291.40" x2="60.73" y2="308.75" stroke="#000" stroke-width="1.00"/><polygon points="63.15,314.57 58.74,309.04 62.34,307.54" fill="#000"/>
<line x1="47.80" y1="321.70" x2="53.79" y2="330.18" stroke="#000" stroke-width="1.00"/><polygon points="57.43,335.33 51.91,330.90 55.10,328.65" fill="#000"/>
<line x1="82.50" y1="334.20" x2="89.15" y2="339.37" stroke="#000" stroke-width="1.00"/><polygon points="94.12,343.25 87.55,340.61 89.95,337.53" fill="#000"/>
<line x1="99.70" y1="311.70" x2="100.19" y2="336.60" stroke="#000" stroke-width="1.00"/><polygon points="100.31,342.90 98.23,336.14 102.12,336.06" fill="#000"/>
<line x1="173.70" y1="338.30" x2="174.86" y2="339.91" stroke="#000" stroke-width="1.00"/><polygon points="178.53,345.02 172.98,340.64 176.15,338.37" fill="#000"/>
<line x1="184.20" y1="319.20" x2="185.52" y2="329.15" stroke="#000" stroke-width="1.00"/><polygon points="186.35,335.40 183.52,328.91 187.39,328.40" fill="#000"/>
<line x1="196.70" y1="293.30" x2="196.70" y2="300.80" stroke="#000" stroke-width="1.00"/><polygon points="196.70,307.10 194.75,300.30 198.65,300.30" fill="#000"/>
<line x1="206.50" y1="267.20" x2="206.61" y2="274.50" stroke="#000" stroke-width="1.00"/><polygon points="206.71,280.80 204.65,274.03 208.55,273.97" fill="#000"/>
<line x1="242.50" y1="310.00" x2="237.63" y2="330.95" stroke="#000" stroke-width="1.00"/><polygon points="236.21,337.09 235.85,330.02 239.65,330.91" fill="#000"/>
<line x1="254.00" y1="318.20" x2="252.10" y2="321.56" stroke="#000" stroke-width="1.00"/><polygon points="249.00,327.05 250.65,320.17 254.04,322.09" fill="#000"/>
<line x1="228.00" y1="303.30" x2="229.95" y2="316.66" stroke="#f00" stroke-width="1.00"/><polygon points="230.86,322.90 227.95,316.45 231.81,315.89" fill="#f00"/>
<line x1="304.70" y1="326.50" x2="301.95" y2="338.46" stroke="#f00" stroke-width="1.00"/><polygon points="300.41,345.19 300.12,337.53 304.02,338.42" fill="#f00"/>
<line x1="323.50" y1="330.90" x2="312.68" y2="333.88" stroke="#f00" stroke-width="1.00"/><polygon points="306.41,335.61 312.63,331.82 313.69,335.68" fill="#f00"/>
</g>
<g id="panel-b">
<rect x="377.80" y="36.80" width="294.80" height="377.10" fill="none" stroke="#000" stroke-width="2.00"/>
<line x1="377.80" y1="413.90" x2="377.80" y2="419.00" stroke="#000" stroke-width="1.9"/><line x1="419.91" y1="413.90" x2="419.91" y2="419.00" stroke="#000" stroke-width="1.9"/><line x1="462.03" y1="413.90" x2="462.03" y2="419.00" stroke="#000" stroke-width="1.9"/><line x1="504.14" y1="413.90" x2="504.14" y2="419.00" stroke="#000" stroke-width="1.9"/><line x1="546.26" y1="413.90" x2="546.26" y2="419.00" stroke="#000" stroke-width="1.9"/><line x1="588.37" y1="413.90" x2="588.37" y2="419.00" stroke="#000" stroke-width="1.9"/><line x1="630.49" y1="413.90" x2="630.49" y2="419.00" stroke="#000" stroke-width="1.9"/><line x1="672.60" y1="413.90" x2="672.60" y2="419.00" stroke="#000" stroke-width="1.9"/><line x1="398.86" y1="413.90" x2="398.86" y2="416.40" stroke="#000" stroke-width="1.9"/><line x1="440.97" y1="413.90" x2="440.97" y2="416.40" stroke="#000" stroke-width="1.9"/><line x1="483.09" y1="413.90" x2="483.09" y2="416.40" stroke="#000" stroke-width="1.9"/><line x1="525.20" y1="413.90" x2="525.20" y2="416.40" stroke="#000" stroke-width="1.9"/><line x1="567.31" y1="413.90" x2="567.31" y2="416.40" stroke="#000" stroke-width="1.9"/><line x1="609.43" y1="413.90" x2="609.43" y2="416.40" stroke="#000" stroke-width="1.9"/><line x1="651.54" y1="413.90" x2="651.54" y2="416.40" stroke="#000" stroke-width="1.9"/>
<text transform="translate(377.80 434.90) rotate(0.05) scale(1.000 1.040)" font-size="15.80" text-anchor="middle" fill="#000" stroke="#000" stroke-width="0.20" >450</text>
<text transform="translate(419.91 434.90) rotate(0.05) scale(1.000 1.040)" font-size="15.80" text-anchor="middle" fill="#000" stroke="#000" stroke-width="0.20" >500</text>
<text transform="translate(462.03 434.90) rotate(0.05) scale(1.000 1.040)" font-size="15.80" text-anchor="middle" fill="#000" stroke="#000" stroke-width="0.20" >550</text>
<text transform="translate(504.14 434.90) rotate(0.05) scale(1.000 1.040)" font-size="15.80" text-anchor="middle" fill="#000" stroke="#000" stroke-width="0.20" >600</text>
<text transform="translate(546.26 434.90) rotate(0.05) scale(1.000 1.040)" font-size="15.80" text-anchor="middle" fill="#000" stroke="#000" stroke-width="0.20" >650</text>
<text transform="translate(588.37 434.90) rotate(0.05) scale(1.000 1.040)" font-size="15.80" text-anchor="middle" fill="#000" stroke="#000" stroke-width="0.20" >700</text>
<text transform="translate(630.49 434.90) rotate(0.05) scale(1.000 1.040)" font-size="15.80" text-anchor="middle" fill="#000" stroke="#000" stroke-width="0.20" >750</text>
<text transform="translate(672.60 434.90) rotate(0.05) scale(1.000 1.040)" font-size="15.80" text-anchor="middle" fill="#000" stroke="#000" stroke-width="0.20" >800</text>
<text transform="translate(525.50 463.30) rotate(0.05)" font-size="20.30" text-anchor="middle" fill="#000" stroke="#000" stroke-width="0.30" >Wavelength (nm)</text>
<text transform="translate(357.5 219.2) rotate(-89.95)" font-size="20.30" text-anchor="middle" stroke="#000" stroke-width="0.3">Intensity (arb. units)</text>
<text transform="translate(342.80 14.20) rotate(0.05)" font-size="19.60" text-anchor="start" fill="#000" stroke="#000" stroke-width="0.30" >b)</text>
<path d="M377.20 121.24 L377.80 121.38 L378.40 121.85 L379.00 121.25 L379.60 121.31 L380.20 121.41 L380.80 120.88 L381.40 121.28 L382.00 121.17 L382.60 120.41 L383.20 118.49 L383.80 119.34 L384.40 120.23 L385.00 121.61 L385.60 121.52 L386.20 120.65 L386.80 121.66 L387.40 120.69 L388.00 118.98 L388.60 119.27 L389.20 120.05 L389.80 120.50 L390.40 121.26 L391.00 120.54 L391.60 120.09 L392.20 119.10 L392.80 118.78 L393.10 119.69 L393.48 119.17 L393.85 116.01 L394.15 111.66 L394.38 108.76 L394.60 107.61 L394.83 108.78 L395.05 111.72 L395.35 116.21 L395.73 119.78 L396.10 120.96 L396.40 121.61 L397.00 121.47 L397.60 120.96 L398.20 120.85 L398.80 120.93 L399.40 120.64 L400.00 121.55 L400.60 121.07 L401.20 121.65 L401.80 121.05 L402.40 121.80 L403.00 121.66 L403.60 120.56 L404.20 120.83 L404.80 121.75 L405.40 121.18 L406.00 121.85 L406.60 121.09 L406.90 120.43 L407.20 118.44 L407.44 115.93 L407.62 114.29 L407.80 113.64 L407.98 114.29 L408.16 115.94 L408.40 118.45 L408.70 120.45 L409.00 121.11 L409.60 120.74 L410.20 120.69 L410.80 121.65 L411.40 120.85 L412.00 121.19 L412.60 119.90 L413.20 117.51 L413.80 118.80 L414.40 120.08 L415.00 121.44 L415.60 120.83 L416.20 121.23 L416.80 120.97 L417.40 121.06 L418.00 121.97 L418.60 121.72 L419.20 120.54 L419.80 119.71 L420.40 118.39 L421.00 120.24 L421.60 121.75 L422.20 121.60 L422.80 120.91 L423.40 122.08 L424.00 121.08 L424.60 121.14 L425.20 121.82 L425.80 121.25 L426.40 121.22 L427.00 120.94 L427.60 120.97 L428.20 121.61 L428.80 121.18 L429.40 121.65 L430.00 121.36 L430.60 121.48 L431.20 122.14 L431.80 121.53 L432.40 121.65 L433.00 122.04 L433.60 121.15 L434.20 121.12 L434.80 122.11 L435.40 121.99 L436.00 121.26 L436.60 121.16 L437.20 121.50 L437.80 120.00 L438.40 117.40 L439.00 120.02 L439.60 121.69 L440.20 121.71 L440.80 121.50 L441.40 121.08 L442.00 121.00 L442.60 122.20 L443.20 121.26 L443.80 121.86 L444.40 121.28 L445.00 122.02 L445.60 121.72 L446.20 121.32 L446.80 121.17 L447.40 121.87 L448.00 121.02 L448.60 121.23 L449.20 121.66 L449.80 122.04 L450.40 121.72 L451.00 121.29 L451.60 122.11 L452.20 121.18 L452.80 120.94 L453.40 121.26 L454.00 121.49 L454.60 120.98 L455.20 121.13 L455.80 121.38 L456.40 121.64 L457.00 121.06 L457.60 121.36 L458.20 122.04 L458.80 122.16 L459.40 121.73 L460.00 121.78 L460.60 121.63 L461.20 121.05 L461.80 120.92 L462.40 120.89 L463.00 122.05 L463.60 121.77 L464.20 122.11 L464.80 120.89 L465.40 121.68 L466.00 121.48 L466.60 121.80 L467.20 121.27 L467.80 122.15 L468.40 120.95 L469.00 121.56 L469.60 121.81 L470.20 122.02 L470.80 121.80 L471.40 121.73 L472.00 121.81 L472.60 121.92 L473.20 121.13 L473.80 121.50 L474.40 121.71 L475.00 121.59 L475.60 120.92 L476.20 121.32 L476.80 121.33 L477.40 120.86 L478.00 120.84 L478.60 120.43 L479.20 120.61 L479.80 120.56 L480.40 119.79 L481.00 120.44 L481.60 120.84 L482.20 120.63 L482.80 120.38 L483.40 119.90 L484.00 120.32 L484.60 120.11 L485.20 119.92 L485.80 120.44 L486.40 119.45 L487.00 120.32 L487.60 119.37 L488.20 120.11 L488.80 119.94 L489.40 119.60 L490.00 120.20 L490.60 119.93 L491.20 120.06 L491.80 120.45 L492.40 119.57 L493.00 119.23 L493.60 119.60 L494.20 120.07 L494.80 119.43 L495.40 119.37 L496.00 120.31 L496.60 119.98 L497.20 119.68 L497.80 120.24 L498.40 119.49 L499.00 119.92 L499.60 119.30 L500.20 119.58 L500.80 120.06 L501.40 120.19 L502.00 120.13 L502.60 119.48 L503.20 119.73 L503.80 119.37 L504.40 119.13 L505.00 119.60 L505.60 120.04 L506.20 120.06 L506.80 119.90 L507.40 120.27 L508.00 119.48 L508.60 119.44 L509.20 119.92 L509.80 119.83 L510.40 119.88 L511.00 120.29 L511.60 120.71 L512.20 120.67 L512.80 120.57 L513.40 121.37 L514.00 121.66 L514.60 121.05 L515.20 120.62 L515.80 120.59 L516.40 121.68 L517.00 120.60 L517.60 121.47 L518.20 121.29 L518.80 120.95 L519.40 121.57 L520.00 120.56 L520.60 120.71 L521.20 121.12 L521.80 120.56 L522.40 121.60 L523.00 120.83 L523.60 120.70 L524.20 120.57 L524.80 121.32 L525.40 121.08 L526.00 121.31 L526.60 121.34 L527.20 121.53 L527.80 121.72 L528.40 121.36 L529.00 120.72 L529.60 121.08 L530.20 120.69 L530.80 120.46 L531.40 121.05 L532.00 121.36 L532.60 120.66 L533.20 120.78 L533.80 120.87 L534.40 121.32 L535.00 121.08 L535.60 121.20 L536.20 121.38 L536.80 120.90 L537.40 121.41 L538.00 121.56 L538.60 120.49 L539.20 121.58 L539.80 121.31 L540.40 120.53 L541.00 120.95 L541.60 121.17 L542.20 121.54 L542.80 120.84 L543.40 121.09 L544.00 121.49 L544.60 121.39 L545.20 121.57 L545.80 120.91 L546.40 121.09 L547.00 120.41 L547.60 120.97 L548.20 120.97 L548.80 120.63 L549.40 120.60 L549.80 119.76 L550.10 117.27 L550.40 109.81 L550.64 100.46 L550.82 94.34 L551.00 91.90 L551.18 94.33 L551.36 100.45 L551.60 109.77 L551.90 117.17 L552.20 119.59 L552.40 119.89 L553.00 120.05 L553.60 120.23 L554.20 119.76 L554.80 119.07 L555.40 120.03 L556.00 119.03 L556.60 120.01 L557.20 119.27 L557.80 119.59 L558.40 120.32 L559.00 119.64 L559.60 119.71 L560.20 119.87 L560.80 119.48 L561.40 119.66 L562.00 120.45 L562.60 121.68 L563.20 121.50 L563.80 122.28 L564.40 121.30 L565.00 121.57 L565.60 122.02 L566.20 121.73 L566.80 122.30 L567.40 122.20 L568.00 122.06 L568.60 122.50 L569.20 122.15 L569.80 121.86 L570.40 121.98 L571.00 122.62 L571.60 122.73 L572.20 121.87 L572.80 122.75 L573.40 122.95 L574.00 122.42 L574.60 122.53 L575.20 122.10 L575.80 122.59 L576.40 122.60 L577.00 122.78 L577.60 122.08 L578.20 123.35 L578.80 122.81 L579.40 122.71 L580.00 123.28 L580.60 123.02 L581.20 122.96 L581.80 123.26 L582.40 122.49 L583.00 123.14 L583.60 123.00 L584.20 123.74 L584.80 123.71 L585.40 122.88 L586.00 123.16 L586.60 122.71 L587.20 123.11 L587.80 123.60 L588.40 123.70 L589.00 123.13 L589.60 122.90 L590.20 122.71 L590.80 123.23 L591.40 123.59 L592.00 122.52 L592.60 123.32 L593.20 122.30 L593.80 122.48 L594.40 122.48 L595.00 123.04 L595.60 122.53 L596.20 122.54 L596.80 122.85 L597.40 122.15 L598.00 122.94 L598.60 122.13 L599.20 122.62 L599.80 122.28 L600.40 122.20 L601.00 122.60 L601.60 122.42 L602.20 122.26 L602.80 122.21 L603.40 122.25 L604.00 121.65 L604.60 121.57 L605.20 121.99 L605.80 121.86 L606.40 121.58 L607.00 121.87 L607.60 121.43 L608.20 121.64 L608.80 120.73 L609.40 121.31 L610.00 121.34 L610.60 121.43 L611.20 120.66 L611.80 120.67 L612.40 121.49 L613.00 120.61 L613.60 121.67 L614.20 121.58 L614.80 120.65 L615.40 120.85 L616.00 121.54 L616.60 121.00 L617.20 120.84 L617.80 121.84 L618.40 121.35 L619.00 121.86 L619.60 121.01 L620.20 121.37 L620.80 121.74 L621.40 120.86 L622.00 121.08 L622.60 121.69 L623.20 121.96 L623.80 122.01 L624.40 120.86 L625.00 121.34 L625.60 121.63 L626.20 121.26 L626.80 121.45 L627.40 120.76 L628.00 120.57 L628.60 120.57 L629.20 120.43 L629.80 121.06 L630.40 120.97 L631.00 120.99 L631.60 120.40 L632.20 120.41 L632.80 120.40 L633.40 121.19 L634.00 121.35 L634.60 121.24 L635.20 120.13 L635.80 120.07 L636.40 121.21 L637.00 120.56 L637.60 120.95 L638.20 120.38 L638.80 120.57 L639.40 120.66 L640.00 120.59 L640.60 120.87 L641.20 120.17 L641.80 121.13 L642.40 121.40 L643.00 120.63 L643.60 121.07 L644.20 121.54 L644.80 121.21 L645.40 121.04 L646.00 121.10 L646.60 121.65 L647.20 121.10 L647.80 122.34 L648.40 122.31 L649.00 122.27 L649.60 122.55 L650.20 122.31 L650.80 122.08 L651.40 122.38 L652.00 122.28 L652.60 122.92 L653.20 122.70 L653.80 121.99 L654.40 122.84 L655.00 122.62 L655.60 122.67 L656.20 122.72 L656.80 122.20 L657.40 122.84 L658.00 122.83 L658.60 122.59 L659.20 122.69 L659.80 122.70 L660.40 122.24 L661.00 122.66 L661.60 121.82 L662.20 122.18 L662.80 122.36 L663.40 121.77 L664.00 122.23 L664.60 122.60 L665.20 122.59 L665.80 122.09 L666.40 123.03 L667.00 122.67 L667.60 122.25 L668.20 122.68 L668.80 122.57 L669.40 122.53 L670.00 122.34 L670.60 123.14 L671.20 122.68 L671.80 122.76 L672.40 122.84 L673.00 123.12 L673.20 121.88" fill="none" stroke="#fc6c6c" stroke-width="2.40" stroke-linejoin="round" stroke-linecap="round" />
<path d="M377.20 216.91 L377.90 217.03 L378.60 217.11 L379.30 216.81 L380.00 217.03 L380.70 217.00 L381.40 216.99 L382.10 216.75 L382.80 216.72 L383.50 216.88 L384.20 217.04 L384.90 216.83 L385.60 216.94 L386.30 216.86 L387.00 217.10 L387.70 217.14 L388.40 216.91 L389.10 217.17 L389.80 216.77 L390.50 217.10 L391.20 217.13 L391.90 216.82 L392.60 217.06 L393.30 217.00 L394.00 217.18 L394.70 216.85 L395.40 217.00 L396.10 217.14 L396.80 216.94 L397.50 216.52 L398.20 216.33 L398.90 216.97 L399.60 216.96 L400.30 217.22 L401.00 216.85 L401.70 217.15 L402.40 217.16 L403.10 217.21 L403.80 216.81 L404.50 216.97 L405.20 216.83 L405.90 217.15 L406.60 216.97 L407.30 217.24 L408.00 216.99 L408.70 217.17 L409.40 217.21 L410.10 216.94 L410.80 217.08 L411.50 217.26 L412.20 217.07 L412.90 217.00 L413.60 216.97 L414.30 217.20 L415.00 216.94 L415.70 217.12 L416.40 217.10 L417.10 217.11 L417.80 216.92 L418.50 217.16 L419.20 217.27 L419.90 217.01 L420.60 217.02 L421.30 217.28 L422.00 217.14 L422.70 217.00 L423.40 216.89 L424.10 217.22 L424.80 217.04 L425.50 217.10 L426.20 217.02 L426.90 217.18 L427.60 217.22 L428.30 217.04 L429.00 216.94 L429.70 217.34 L430.40 217.31 L431.10 216.92 L431.80 217.16 L432.50 217.22 L433.20 217.10 L433.90 217.24 L434.60 217.35 L435.30 217.18 L436.00 217.10 L436.70 217.01 L437.40 217.04 L438.10 217.00 L438.80 216.98 L439.50 217.03 L440.20 217.31 L440.90 217.18 L441.60 217.30 L442.30 217.35 L443.00 217.30 L443.70 216.97 L444.40 217.36 L445.10 216.99 L445.80 217.29 L446.50 217.32 L447.20 217.24 L447.90 217.13 L448.60 216.99 L449.30 217.00 L450.00 217.24 L450.70 217.07 L451.40 217.20 L452.10 217.08 L452.80 217.04 L453.50 217.10 L454.20 217.29 L454.90 217.18 L455.60 217.14 L456.30 217.18 L457.00 217.21 L457.70 217.20 L458.40 217.17 L459.10 217.40 L459.80 217.30 L460.50 217.08 L461.20 217.11 L461.90 217.06 L462.60 217.14 L463.30 216.99 L464.00 217.30 L464.70 217.23 L465.40 217.16 L466.10 217.37 L466.80 217.12 L467.50 217.23 L468.20 217.39 L468.90 217.22 L469.60 217.25 L470.30 217.14 L471.00 217.42 L471.70 217.31 L472.40 217.11 L473.10 217.14 L473.80 217.24 L474.50 217.21 L475.20 217.21 L475.90 217.06 L476.60 217.23 L477.30 217.29 L478.00 217.32 L478.70 217.18 L479.40 217.17 L480.10 217.20 L480.80 217.21 L481.50 217.19 L482.20 216.98 L482.90 217.09 L483.60 217.41 L484.30 217.34 L485.00 217.18 L485.70 217.30 L486.40 217.06 L487.10 217.09 L487.80 217.20 L488.50 217.28 L489.20 216.98 L489.90 217.17 L490.60 217.36 L491.30 217.23 L492.00 217.40 L492.70 217.01 L493.40 217.36 L494.10 217.33 L494.80 216.97 L495.50 217.19 L496.20 217.29 L496.90 217.05 L497.60 217.24 L498.30 217.33 L499.00 217.30 L499.70 217.14 L500.40 216.97 L501.10 217.18 L501.80 217.03 L502.50 217.18 L503.20 217.06 L503.90 217.09 L504.60 217.18 L505.30 217.30 L506.00 217.36 L506.70 217.11 L507.40 216.93 L508.10 217.26 L508.80 217.08 L509.50 217.26 L510.20 217.29 L510.90 216.93 L511.60 217.24 L512.30 217.04 L513.00 217.05 L513.70 217.06 L514.40 217.15 L515.10 217.01 L515.80 217.12 L516.50 217.03 L517.20 216.95 L517.90 217.01 L518.60 217.19 L519.30 217.03 L520.00 216.98 L520.70 217.05 L521.40 216.98 L522.10 217.32 L522.80 217.23 L523.50 216.94 L524.20 217.00 L524.90 217.06 L525.60 217.10 L526.30 217.04 L527.00 217.09 L527.70 217.20 L528.40 216.93 L529.10 217.10 L529.80 216.92 L530.50 217.08 L531.20 216.99 L531.90 217.20 L532.60 217.23 L533.30 217.26 L534.00 217.01 L534.70 217.10 L535.40 216.90 L536.10 217.14 L536.80 217.16 L537.50 217.01 L538.20 216.96 L538.90 217.15 L539.60 217.14 L540.30 217.16 L541.00 216.93 L541.70 216.91 L542.40 216.91 L543.10 216.88 L543.80 216.79 L544.50 216.84 L545.20 217.00 L545.90 216.97 L546.60 217.17 L547.30 216.94 L548.00 216.85 L548.70 217.18 L549.40 216.77 L550.10 216.37 L550.80 214.83 L551.50 214.87 L552.20 216.78 L552.90 217.06 L553.60 216.88 L554.30 217.12 L555.00 217.14 L555.70 216.96 L556.40 216.79 L557.10 216.77 L557.80 217.08 L558.50 217.11 L559.20 217.00 L559.90 217.05 L560.60 217.06 L561.30 216.81 L562.00 216.80 L562.70 217.08 L563.40 217.06 L564.10 216.88 L564.80 216.81 L565.50 216.72 L566.20 216.86 L566.90 217.08 L567.60 216.76 L568.30 216.81 L569.00 216.68 L569.70 216.91 L570.40 216.69 L571.10 216.95 L571.80 216.87 L572.50 216.84 L573.20 216.76 L573.90 216.78 L574.60 217.03 L575.30 217.05 L576.00 216.96 L576.70 216.72 L577.40 216.72 L578.10 216.78 L578.80 217.00 L579.50 217.03 L580.20 216.71 L580.90 216.89 L581.60 216.77 L582.30 216.80 L583.00 216.69 L583.70 216.91 L584.40 216.94 L585.10 217.00 L585.80 216.80 L586.50 216.78 L587.20 216.86 L587.90 216.63 L588.60 216.96 L589.30 216.91 L590.00 216.67 L590.70 216.74 L591.40 216.77 L592.10 216.93 L592.80 216.86 L593.50 216.65 L594.20 216.96 L594.90 216.95 L595.60 216.92 L596.30 216.75 L597.00 216.74 L597.70 216.71 L598.40 216.96 L599.10 216.74 L599.80 216.94 L600.50 216.60 L601.20 216.53 L601.90 216.72 L602.60 216.60 L603.30 216.62 L604.00 216.52 L604.70 216.56 L605.40 216.69 L606.10 216.53 L606.80 216.62 L607.50 216.76 L608.20 216.60 L608.90 216.62 L609.60 216.65 L610.30 216.60 L611.00 216.73 L611.70 216.82 L612.40 216.49 L613.10 216.71 L613.80 216.70 L614.50 216.87 L615.20 216.77 L615.90 216.58 L616.60 216.73 L617.30 216.85 L618.00 216.87 L618.70 216.79 L619.40 216.50 L620.10 216.61 L620.80 216.65 L621.50 216.59 L622.20 216.77 L622.90 216.65 L623.60 216.87 L624.30 216.44 L625.00 216.79 L625.70 216.48 L626.40 216.66 L627.10 216.49 L627.80 216.59 L628.50 216.69 L629.20 216.84 L629.90 216.44 L630.60 216.59 L631.30 216.46 L632.00 216.74 L632.70 216.48 L633.40 216.50 L634.10 216.76 L634.80 216.43 L635.50 216.80 L636.20 216.52 L636.90 216.84 L637.60 216.45 L638.30 216.44 L639.00 216.61 L639.70 216.53 L640.40 216.68 L641.10 216.53 L641.80 216.54 L642.50 216.40 L643.20 216.43 L643.90 216.39 L644.60 216.59 L645.30 216.78 L646.00 216.63 L646.70 216.53 L647.40 216.59 L648.10 216.72 L648.80 216.77 L649.50 216.43 L650.20 216.67 L650.90 216.51 L651.60 216.79 L652.30 216.70 L653.00 216.64 L653.70 216.68 L654.40 216.72 L655.10 216.41 L655.80 216.52 L656.50 216.40 L657.20 216.45 L657.90 216.79 L658.60 216.63 L659.30 216.47 L660.00 216.51 L660.70 216.56 L661.40 216.42 L662.10 216.74 L662.80 216.55 L663.50 216.41 L664.20 216.61 L664.90 216.56 L665.60 216.72 L666.30 216.50 L667.00 216.49 L667.70 216.60 L668.40 216.56 L669.10 216.44 L669.80 216.71 L670.50 216.77 L671.20 216.75 L671.90 216.67 L672.60 216.59 L673.20 216.73" fill="none" stroke="#79a1dc" stroke-width="2.30" stroke-linejoin="round" stroke-linecap="round" />
<path d="M377.20 307.26 L377.80 307.86 L378.40 307.86 L379.00 308.09 L379.60 307.16 L380.20 307.23 L380.80 307.12 L381.40 307.23 L382.00 307.88 L382.60 306.53 L383.20 305.78 L383.80 304.69 L384.40 305.96 L385.00 307.26 L385.60 308.13 L386.20 307.83 L386.60 307.60 L387.00 307.14 L387.40 305.73 L387.72 303.95 L387.96 302.79 L388.20 302.33 L388.44 302.80 L388.68 303.97 L389.00 305.76 L389.40 307.18 L389.80 307.66 L390.40 308.24 L391.00 307.63 L391.60 307.40 L392.20 306.09 L392.80 305.90 L393.40 306.87 L394.00 307.56 L394.60 307.39 L395.20 306.54 L395.80 306.72 L396.40 306.90 L397.00 308.01 L397.60 307.99 L398.20 307.85 L398.80 308.12 L399.40 307.25 L400.00 308.00 L400.60 307.67 L401.20 307.28 L401.80 307.31 L402.40 307.74 L403.00 307.35 L403.60 307.62 L404.20 307.81 L404.80 307.50 L405.40 307.11 L406.00 307.47 L406.20 307.22 L406.60 305.34 L407.00 299.72 L407.32 292.65 L407.56 288.01 L407.80 286.17 L408.04 288.00 L408.28 292.62 L408.60 299.67 L409.00 305.27 L409.40 307.13 L409.60 306.87 L410.20 307.92 L410.80 307.95 L411.40 307.62 L411.70 307.30 L412.12 306.56 L412.55 304.37 L412.89 301.62 L413.14 299.82 L413.40 299.10 L413.65 299.81 L413.91 301.59 L414.25 304.32 L414.67 306.49 L415.10 307.19 L415.60 307.38 L416.20 306.90 L416.80 305.03 L417.40 305.90 L418.00 306.98 L418.60 307.33 L418.80 307.16 L419.23 306.70 L419.65 305.30 L419.99 303.55 L420.25 302.40 L420.50 301.94 L420.75 302.39 L421.01 303.53 L421.35 305.27 L421.77 306.66 L422.20 307.09 L422.80 307.00 L423.40 305.53 L424.00 305.52 L424.60 305.95 L425.20 306.36 L425.80 306.56 L426.40 308.13 L427.00 307.09 L427.60 307.56 L428.20 307.72 L428.80 308.36 L429.40 307.76 L430.00 308.36 L430.60 308.21 L431.20 308.87 L431.80 307.72 L432.40 308.19 L433.00 308.42 L433.60 309.09 L434.20 308.47 L434.80 308.43 L435.40 308.72 L436.00 308.21 L436.60 307.86 L437.20 308.53 L437.80 309.13 L438.40 308.91 L439.00 308.26 L439.60 308.88 L440.20 309.13 L440.80 308.33 L441.40 308.81 L442.00 308.51 L442.60 308.38 L443.20 308.47 L443.80 308.38 L444.40 308.61 L445.00 308.20 L445.60 308.72 L446.20 308.31 L446.80 309.28 L447.40 309.08 L448.00 308.27 L448.60 309.37 L449.20 308.58 L449.80 309.01 L450.40 309.13 L451.00 308.84 L451.60 308.80 L452.20 309.02 L452.80 308.62 L453.40 309.65 L454.00 308.61 L454.60 309.62 L455.20 308.78 L455.80 308.91 L456.40 309.04 L457.00 308.54 L457.60 308.68 L458.20 309.01 L458.80 309.12 L459.40 309.72 L460.00 309.87 L460.60 308.54 L461.20 309.21 L461.80 308.63 L462.40 309.56 L463.00 308.88 L463.60 309.66 L464.20 309.16 L464.80 308.56 L465.40 308.37 L466.00 308.70 L466.60 309.55 L467.20 308.54 L467.80 308.99 L468.40 308.83 L469.00 308.79 L469.60 309.42 L470.20 308.60 L470.80 309.29 L471.40 309.20 L472.00 309.54 L472.60 308.92 L473.20 309.42 L473.80 308.69 L474.40 308.81 L475.00 308.81 L475.60 309.04 L476.20 309.04 L476.80 307.86 L477.40 307.81 L478.00 308.28 L478.60 308.58 L479.20 308.11 L479.80 307.71 L480.40 308.56 L481.00 307.56 L481.60 307.20 L482.20 307.10 L482.80 307.02 L483.40 307.96 L484.00 306.82 L484.60 307.13 L485.20 307.28 L485.80 307.64 L486.40 308.70 L487.00 306.83 L487.60 307.44 L488.20 308.51 L488.80 307.95 L489.40 308.38 L490.00 307.85 L490.60 306.74 L491.20 307.50 L491.80 307.41 L492.40 308.43 L493.00 306.75 L493.60 307.49 L494.20 307.76 L494.80 305.73 L495.40 307.06 L496.00 307.85 L496.60 306.60 L497.20 309.00 L497.80 306.92 L498.40 308.38 L499.00 307.57 L499.60 306.76 L500.20 307.20 L500.80 306.18 L501.40 306.28 L502.00 308.00 L502.60 307.08 L503.20 307.49 L503.80 308.11 L504.40 306.86 L505.00 308.07 L505.60 306.60 L506.20 305.83 L506.80 308.23 L507.40 305.56 L508.00 308.40 L508.60 307.10 L509.20 308.13 L509.80 308.85 L510.40 307.87 L511.00 307.21 L511.60 306.78 L512.20 308.18 L512.80 308.74 L513.40 307.97 L514.00 308.79 L514.60 308.70 L515.20 308.40 L515.80 309.14 L516.40 307.83 L517.00 309.01 L517.60 308.01 L518.20 308.98 L518.80 308.03 L519.40 307.89 L520.00 308.52 L520.60 309.12 L521.20 308.19 L521.80 308.52 L522.40 308.69 L523.00 308.19 L523.60 308.59 L524.20 307.87 L524.80 308.49 L525.40 308.93 L526.00 308.35 L526.60 308.18 L527.20 307.95 L527.80 308.87 L528.40 308.49 L529.00 309.17 L529.60 308.93 L530.20 308.04 L530.80 309.18 L531.40 309.20 L532.00 309.04 L532.60 309.07 L533.20 308.89 L533.80 308.99 L534.40 308.97 L535.00 308.94 L535.60 308.56 L536.20 308.48 L536.80 309.41 L537.40 309.33 L538.00 308.69 L538.60 309.62 L539.20 309.69 L539.80 309.67 L540.40 310.15 L541.00 310.40 L541.60 309.81 L542.20 310.51 L542.80 310.16 L543.40 310.34 L544.00 310.18 L544.60 310.96 L545.20 310.31 L545.80 311.03 L546.40 310.17 L547.00 310.64 L547.60 310.98 L548.20 310.67 L548.80 310.25 L549.40 309.83 L550.00 308.82 L550.27 301.13 L550.55 277.93 L550.77 248.78 L550.94 229.67 L551.10 222.06 L551.26 229.67 L551.43 248.79 L551.65 277.95 L551.93 301.16 L552.20 308.86 L552.40 309.66 L553.00 310.25 L553.60 310.23 L554.20 311.18 L554.80 310.13 L555.40 311.16 L556.00 310.27 L556.60 310.16 L557.20 311.24 L557.80 310.01 L558.40 310.05 L559.00 310.08 L559.60 309.99 L560.20 310.44 L560.80 310.20 L561.40 310.12 L562.00 309.92 L562.60 310.88 L563.20 309.98 L563.80 310.23 L564.40 310.71 L565.00 311.15 L565.60 310.84 L566.20 310.92 L566.80 310.91 L567.40 311.05 L568.00 311.14 L568.60 310.16 L569.20 310.03 L569.80 310.83 L570.40 310.69 L571.00 310.70 L571.60 311.08 L572.20 310.23 L572.80 310.99 L573.40 310.60 L574.00 310.60 L574.60 310.36 L575.20 310.42 L575.80 310.85 L576.40 310.82 L577.00 311.32 L577.60 310.46 L578.20 311.07 L578.80 310.22 L579.40 311.00 L580.00 310.32 L580.60 311.31 L581.20 311.47 L581.80 310.48 L582.40 311.27 L583.00 310.45 L583.60 310.58 L584.20 310.31 L584.80 310.79 L585.40 310.33 L586.00 311.17 L586.60 311.00 L587.20 310.79 L587.80 311.20 L588.40 310.55 L589.00 310.69 L589.60 310.74 L590.20 310.24 L590.80 311.49 L591.40 310.38 L592.00 310.40 L592.60 311.38 L593.20 311.42 L593.80 310.90 L594.40 310.87 L595.00 310.48 L595.60 310.29 L596.20 311.02 L596.80 310.63 L597.40 310.51 L598.00 311.57 L598.60 310.33 L599.20 310.81 L599.80 311.35 L600.40 311.34 L601.00 310.41 L601.60 311.25 L602.20 310.92 L602.80 310.92 L603.40 311.25 L604.00 310.92 L604.60 310.51 L605.20 310.60 L605.80 310.07 L606.40 309.96 L607.00 310.73 L607.60 309.12 L608.20 309.19 L608.80 308.01 L609.40 309.31 L610.00 308.08 L610.60 308.63 L611.20 308.65 L611.80 308.45 L612.40 309.13 L613.00 308.56 L613.60 308.47 L614.20 308.50 L614.80 309.05 L615.40 309.15 L616.00 308.63 L616.60 309.48 L617.20 309.82 L617.80 308.59 L618.40 309.98 L619.00 309.10 L619.60 309.34 L620.20 308.62 L620.80 308.38 L621.40 308.17 L622.00 308.35 L622.60 308.97 L623.20 307.79 L623.80 308.18 L624.40 308.84 L625.00 309.03 L625.60 309.92 L626.20 309.02 L626.80 309.96 L627.40 308.34 L628.00 309.67 L628.60 307.95 L629.20 308.27 L629.80 309.18 L630.40 309.58 L631.00 308.49 L631.60 308.57 L632.20 308.34 L632.80 309.95 L633.40 308.93 L634.00 309.35 L634.60 309.13 L635.20 308.40 L635.80 310.32 L636.40 309.36 L637.00 310.20 L637.60 308.46 L638.20 309.77 L638.80 309.04 L639.40 309.43 L640.00 310.16 L640.60 309.08 L641.20 310.06 L641.80 309.27 L642.40 310.04 L643.00 309.92 L643.60 309.47 L644.20 309.39 L644.80 309.93 L645.40 310.75 L646.00 310.76 L646.60 310.28 L647.20 309.76 L647.80 310.94 L648.40 310.11 L649.00 310.90 L649.60 310.59 L650.20 311.25 L650.80 310.11 L651.40 311.02 L652.00 310.92 L652.60 309.94 L653.20 310.72 L653.80 310.35 L654.40 310.92 L655.00 311.31 L655.60 310.91 L656.20 310.68 L656.80 310.85 L657.40 310.37 L658.00 310.69 L658.60 310.22 L659.20 311.08 L659.80 310.19 L660.40 310.85 L661.00 310.39 L661.60 310.94 L662.20 310.25 L662.80 310.23 L663.40 311.09 L664.00 311.24 L664.60 311.49 L665.20 311.21 L665.80 311.68 L666.40 310.50 L667.00 311.20 L667.60 311.22 L668.20 310.59 L668.80 310.55 L669.40 310.70 L670.00 311.11 L670.60 311.49 L671.20 311.39 L671.80 311.20 L672.40 310.51 L673.00 311.41 L673.20 311.12" fill="none" stroke="#a3005a" stroke-width="2.60" stroke-linejoin="round" stroke-linecap="round" />
<path d="M377.20 405.66 L377.90 405.69 L378.60 405.61 L379.30 405.60 L380.00 405.57 L380.70 405.76 L381.40 405.53 L382.10 405.49 L382.80 405.52 L383.50 405.52 L384.20 405.54 L384.90 405.53 L385.60 405.47 L386.30 405.54 L387.00 405.43 L387.70 405.19 L388.40 405.12 L389.10 405.39 L389.80 405.50 L390.50 405.61 L391.20 405.56 L391.90 405.67 L392.60 405.70 L393.30 405.57 L394.00 405.47 L394.70 405.67 L395.40 405.68 L396.10 405.57 L396.80 405.65 L397.50 405.54 L398.20 405.73 L398.90 405.71 L399.60 405.69 L400.30 405.75 L401.00 405.51 L401.70 405.61 L402.40 405.67 L403.10 405.70 L403.80 405.56 L404.50 405.48 L405.20 405.64 L405.90 405.47 L406.60 405.56 L407.30 404.77 L408.00 404.65 L408.70 405.31 L409.40 405.46 L410.10 405.59 L410.80 405.60 L411.50 405.56 L412.20 405.73 L412.90 405.72 L413.60 405.72 L414.30 405.52 L415.00 405.45 L415.70 405.56 L416.40 405.48 L417.10 405.67 L417.80 405.52 L418.50 405.48 L419.20 405.53 L419.90 405.57 L420.60 405.68 L421.30 405.59 L422.00 405.54 L422.70 405.66 L423.40 405.45 L424.10 405.51 L424.80 405.66 L425.50 405.68 L426.20 405.47 L426.90 405.46 L427.60 405.60 L428.30 405.65 L429.00 405.45 L429.70 405.58 L430.40 405.53 L431.10 405.47 L431.80 405.49 L432.50 405.53 L433.20 405.59 L433.90 405.48 L434.60 405.64 L435.30 405.72 L436.00 405.66 L436.70 405.46 L437.40 405.65 L438.10 405.64 L438.80 405.44 L439.50 405.56 L440.20 405.65 L440.90 405.74 L441.60 405.74 L442.30 405.62 L443.00 405.63 L443.70 405.75 L444.40 405.51 L445.10 405.60 L445.80 405.46 L446.50 405.69 L447.20 405.65 L447.90 405.51 L448.60 405.50 L449.30 405.61 L450.00 405.68 L450.70 405.48 L451.40 405.54 L452.10 405.60 L452.80 405.52 L453.50 405.72 L454.20 405.67 L454.90 405.75 L455.60 405.65 L456.30 405.66 L457.00 405.53 L457.70 405.60 L458.40 405.58 L459.10 405.59 L459.80 405.46 L460.50 405.71 L461.20 405.49 L461.90 405.59 L462.60 405.74 L463.30 405.60 L464.00 405.72 L464.70 405.52 L465.40 405.59 L466.10 405.56 L466.80 405.54 L467.50 405.56 L468.20 405.58 L468.90 405.71 L469.60 405.75 L470.30 405.47 L471.00 405.65 L471.70 405.61 L472.40 405.57 L473.10 405.45 L473.80 405.56 L474.50 405.54 L475.20 405.56 L475.90 405.63 L476.60 405.56 L477.30 405.53 L478.00 405.53 L478.70 405.75 L479.40 405.57 L480.10 405.75 L480.80 405.49 L481.50 405.65 L482.20 405.62 L482.90 405.67 L483.60 405.60 L484.30 405.72 L485.00 405.63 L485.70 405.45 L486.40 405.66 L487.10 405.64 L487.80 405.52 L488.50 405.67 L489.20 405.71 L489.90 405.53 L490.60 405.49 L491.30 405.53 L492.00 405.63 L492.70 405.58 L493.40 405.46 L494.10 405.58 L494.80 405.62 L495.50 405.63 L496.20 405.55 L496.90 405.69 L497.60 405.66 L498.30 405.52 L499.00 405.55 L499.70 405.74 L500.40 405.51 L501.10 405.58 L501.80 405.54 L502.50 405.63 L503.20 405.69 L503.90 405.48 L504.60 405.50 L505.30 405.46 L506.00 405.48 L506.70 405.61 L507.40 405.60 L508.10 405.74 L508.80 405.58 L509.50 405.61 L510.20 405.45 L510.90 405.51 L511.60 405.54 L512.30 405.52 L513.00 405.69 L513.70 405.57 L514.40 405.48 L515.10 405.61 L515.80 405.49 L516.50 405.50 L517.20 405.63 L517.90 405.47 L518.60 405.68 L519.30 405.58 L520.00 405.46 L520.70 405.66 L521.40 405.75 L522.10 405.68 L522.80 405.71 L523.50 405.74 L524.20 405.53 L524.90 405.60 L525.60 405.68 L526.30 405.57 L527.00 405.75 L527.70 405.58 L528.40 405.45 L529.10 405.47 L529.80 405.58 L530.50 405.45 L531.20 405.64 L531.90 405.76 L532.60 405.74 L533.30 405.76 L534.00 405.52 L534.70 405.50 L535.40 405.46 L536.10 405.74 L536.80 405.45 L537.50 405.46 L538.20 405.65 L538.90 405.74 L539.60 405.61 L540.30 405.46 L541.00 405.45 L541.70 405.70 L542.40 405.66 L543.10 405.54 L543.80 405.75 L544.50 405.53 L545.20 405.49 L545.90 405.75 L546.60 405.46 L547.30 405.56 L548.00 405.50 L548.70 405.64 L549.40 405.56 L550.10 404.77 L550.80 402.51 L551.50 402.67 L552.20 405.21 L552.90 405.67 L553.60 405.51 L554.30 405.63 L555.00 405.53 L555.70 405.62 L556.40 405.54 L557.10 405.51 L557.80 405.60 L558.50 405.46 L559.20 405.76 L559.90 405.69 L560.60 405.51 L561.30 405.63 L562.00 405.50 L562.70 405.49 L563.40 405.56 L564.10 405.67 L564.80 405.46 L565.50 405.74 L566.20 405.52 L566.90 405.49 L567.60 405.60 L568.30 405.73 L569.00 405.57 L569.70 405.61 L570.40 405.76 L571.10 405.61 L571.80 405.55 L572.50 405.50 L573.20 405.61 L573.90 405.64 L574.60 405.63 L575.30 405.50 L576.00 405.44 L576.70 405.75 L577.40 405.66 L578.10 405.71 L578.80 405.71 L579.50 405.58 L580.20 405.50 L580.90 405.75 L581.60 405.73 L582.30 405.46 L583.00 405.64 L583.70 405.60 L584.40 405.45 L585.10 405.62 L585.80 405.65 L586.50 405.58 L587.20 405.52 L587.90 405.72 L588.60 405.65 L589.30 405.53 L590.00 405.69 L590.70 405.73 L591.40 405.56 L592.10 405.62 L592.80 405.47 L593.50 405.48 L594.20 405.71 L594.90 405.75 L595.60 405.74 L596.30 405.49 L597.00 405.66 L597.70 405.57 L598.40 405.51 L599.10 405.73 L599.80 405.47 L600.50 405.47 L601.20 405.55 L601.90 405.49 L602.60 405.57 L603.30 405.64 L604.00 405.60 L604.70 405.73 L605.40 405.59 L606.10 405.49 L606.80 405.62 L607.50 405.45 L608.20 405.65 L608.90 405.49 L609.60 405.60 L610.30 405.58 L611.00 405.74 L611.70 405.48 L612.40 405.53 L613.10 405.55 L613.80 405.61 L614.50 405.56 L615.20 405.75 L615.90 405.74 L616.60 405.74 L617.30 405.65 L618.00 405.69 L618.70 405.62 L619.40 405.50 L620.10 405.49 L620.80 405.50 L621.50 405.69 L622.20 405.65 L622.90 405.45 L623.60 405.53 L624.30 405.46 L625.00 405.61 L625.70 405.55 L626.40 405.59 L627.10 405.56 L627.80 405.57 L628.50 405.59 L629.20 405.69 L629.90 405.46 L630.60 405.68 L631.30 405.63 L632.00 405.69 L632.70 405.49 L633.40 405.53 L634.10 405.73 L634.80 405.75 L635.50 405.53 L636.20 405.56 L636.90 405.55 L637.60 405.54 L638.30 405.74 L639.00 405.60 L639.70 405.58 L640.40 405.73 L641.10 405.64 L641.80 405.74 L642.50 405.65 L643.20 405.58 L643.90 405.47 L644.60 405.60 L645.30 405.61 L646.00 405.64 L646.70 405.71 L647.40 405.56 L648.10 405.62 L648.80 405.70 L649.50 405.74 L650.20 405.70 L650.90 405.52 L651.60 405.70 L652.30 405.66 L653.00 405.54 L653.70 405.62 L654.40 405.69 L655.10 405.70 L655.80 405.52 L656.50 405.60 L657.20 405.65 L657.90 405.49 L658.60 405.68 L659.30 405.69 L660.00 405.63 L660.70 405.75 L661.40 405.54 L662.10 405.53 L662.80 405.75 L663.50 405.64 L664.20 405.44 L664.90 405.58 L665.60 405.54 L666.30 405.70 L667.00 405.75 L667.70 405.48 L668.40 405.66 L669.10 405.71 L669.80 405.48 L670.50 405.58 L671.20 405.45 L671.90 405.55 L672.60 405.63 L673.20 405.67" fill="none" stroke="#0a1db6" stroke-width="2.50" stroke-linejoin="round" stroke-linecap="round" />
<line x1="432.20" y1="45.00" x2="467.60" y2="45.00" stroke="#fc6c6c" stroke-width="2.30"/>
<line x1="432.20" y1="62.95" x2="467.60" y2="62.95" stroke="#a3005a" stroke-width="2.30"/>
<line x1="555.00" y1="45.00" x2="589.40" y2="45.00" stroke="#79a1dc" stroke-width="2.30"/>
<line x1="555.00" y1="62.95" x2="589.40" y2="62.95" stroke="#0a1db6" stroke-width="2.30"/>
<text transform="translate(466.00 49.60) rotate(0.05)" font-size="14.65" text-anchor="start" fill="#000" stroke="#000" stroke-width="0.30" >FBD-mixture</text>
<text transform="translate(466.00 67.80) rotate(0.05) scale(1 1.000)" fill="#000" stroke="#000" stroke-width="0.30"><tspan x="0.00" y="0.00" font-size="14.65">FBD-H</tspan><tspan x="44.70" y="3.80" font-size="10.10">2</tspan></text>
<text transform="translate(588.80 49.60) rotate(0.05)" font-size="14.50" text-anchor="start" fill="#000" stroke="#000" stroke-width="0.30" >DBD-mixture</text>
<text transform="translate(588.80 67.80) rotate(0.05) scale(1 1.000)" fill="#000" stroke="#000" stroke-width="0.30"><tspan x="0.00" y="0.00" font-size="14.50">DBD-H</tspan><tspan x="46.20" y="3.80" font-size="10.10">2</tspan></text>
<text transform="translate(398.80 105.40) rotate(0.05) scale(1 1.040)" fill="#000" stroke="#000" stroke-width="0.30"><tspan x="0.00" y="0.00" font-size="13.50">H</tspan><tspan x="10.00" y="4.33" font-size="9.80">β</tspan><tspan x="16.40" y="-0.77" font-size="12.00">*</tspan></text>
<text transform="translate(540.80 82.80) rotate(0.05) scale(1 1.040)" fill="#000" stroke="#000" stroke-width="0.30"><tspan x="0.00" y="0.00" font-size="13.50">H</tspan><tspan x="10.20" y="4.42" font-size="9.80">α</tspan><tspan x="16.70" y="-0.77" font-size="12.00">*</tspan></text>
</g>
</svg>
</body>
</html>
